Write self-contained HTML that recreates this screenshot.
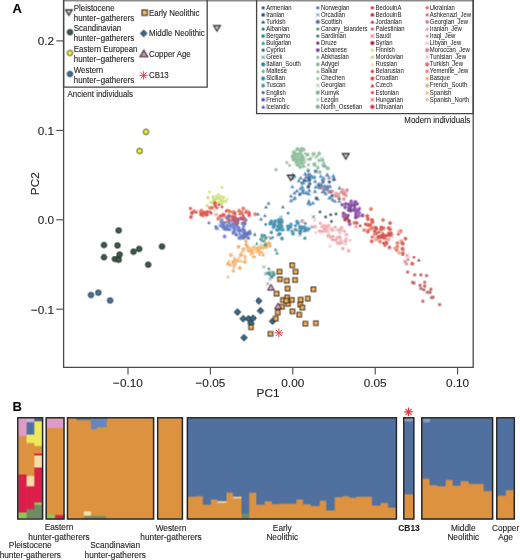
<!DOCTYPE html>
<html><head><meta charset="utf-8"><style>
html,body{margin:0;padding:0;background:#fff;overflow:hidden;width:520px;height:560px;}
svg{display:block;font-family:"Liberation Sans", sans-serif;}
.ly{position:absolute;left:0;top:0;width:520px;height:560px;will-change:transform;}
#g{transform:translate(0.5px,0.5px);}
text{stroke:#231f20;stroke-width:0.12px;}
text[font-size="6.4"]{stroke-width:0.04px;}
</style></head><body>
<div class="ly" id="g"><svg width="520" height="560" viewBox="0 0 520 560">
<rect width="520" height="560" fill="#fff"/>
<g transform="translate(-0.5 -0.5)">
<path d="M65.5 9.8H72.3L68.9 15.4Z" fill="#c4c4c4" stroke="#2b2b2b" stroke-width="1.15" stroke-linejoin="miter"/>
<circle cx="70.0" cy="32.2" r="2.75" fill="#3e5c4a" stroke="#1b2620" stroke-width="0.9"/>
<circle cx="70.0" cy="53.0" r="2.75" fill="#f2ee3c" stroke="#3a3a16" stroke-width="0.9"/>
<circle cx="70.0" cy="74.0" r="2.75" fill="#4674a0" stroke="#1d3346" stroke-width="0.9"/>
<rect x="142.0" y="10.0" width="5.4" height="5.4" fill="#f0b868" stroke="#3b2a14" stroke-width="1.1"/>
<path d="M143.7 30.1L147.0 33.4L143.7 36.7L140.4 33.4Z" fill="#3a6a8c" stroke="#1c2b38" stroke-width="0.9"/>
<path d="M143.9 50.2L147.8 56.8H140.0Z" fill="#c49ab6" stroke="#3e2636" stroke-width="1.1"/>
<circle cx="263.2" cy="7.8" r="1.59" fill="#2c4a78"/>
<rect x="261.6" y="13.3" width="3.2" height="3.2" fill="#2e4d7a"/>
<path d="M263.2 19.9L265.2 23.6L261.2 23.6Z" fill="#2c4a78"/>
<circle cx="263.2" cy="29.0" r="1.59" fill="#2b6584"/>
<rect x="261.6" y="34.5" width="3.2" height="3.2" fill="#2a8a86"/>
<path d="M263.2 41.1L265.2 44.8L261.2 44.8Z" fill="#2a8a86"/>
<circle cx="263.2" cy="50.2" r="1.59" fill="#35597e"/>
<path d="M261.4 55.5L265.0 59.0M265.0 55.5L261.4 59.0" stroke="#3a6690" stroke-width="0.9" fill="none"/>
<circle cx="263.2" cy="64.4" r="2.09" fill="#2e7ea4"/>
<path d="M261.2 71.4H265.2M263.2 69.4V73.4" stroke="#2c8a82" stroke-width="0.9" fill="none"/>
<circle cx="263.2" cy="78.5" r="2.09" fill="#2d86ac"/>
<rect x="261.6" y="84.0" width="3.2" height="3.2" fill="#3a8c8c"/>
<circle cx="263.2" cy="92.6" r="1.59" fill="#3e5bab"/>
<rect x="261.6" y="98.1" width="3.2" height="3.2" fill="#4858a6"/>
<path d="M263.2 104.7L265.2 108.4L261.2 108.4Z" fill="#3e5bab"/>
<circle cx="317.8" cy="7.8" r="1.59" fill="#5a6cbc"/>
<path d="M316.0 13.1L319.6 16.6M319.6 13.1L316.0 16.6" stroke="#4a6cc0" stroke-width="0.9" fill="none"/>
<circle cx="317.8" cy="21.9" r="2.09" fill="#5e6cae"/>
<circle cx="317.8" cy="29.0" r="1.59" fill="#468a6a"/>
<circle cx="317.8" cy="36.1" r="1.59" fill="#3c7470"/>
<circle cx="317.8" cy="43.1" r="1.59" fill="#5a2a7a"/>
<rect x="316.2" y="48.6" width="3.2" height="3.2" fill="#7a2a9e"/>
<circle cx="317.8" cy="57.3" r="1.59" fill="#7eb68c"/>
<rect x="316.2" y="62.8" width="3.2" height="3.2" fill="#7eae8c"/>
<path d="M317.8 69.4L319.8 73.1L315.8 73.1Z" fill="#86b496"/>
<circle cx="317.8" cy="78.5" r="1.59" fill="#92c09e"/>
<path d="M316.0 83.8L319.6 87.3M319.6 83.8L316.0 87.3" stroke="#7eae8c" stroke-width="0.9" fill="none"/>
<circle cx="317.8" cy="92.6" r="2.09" fill="#7eae8c"/>
<path d="M315.8 99.7H319.8M317.8 97.7V101.7" stroke="#92c09e" stroke-width="0.9" fill="none"/>
<circle cx="317.8" cy="106.8" r="2.09" fill="#7eae8c"/>
<circle cx="372.4" cy="7.8" r="1.59" fill="#c8283a"/>
<rect x="370.8" y="13.3" width="3.2" height="3.2" fill="#b42a3c"/>
<path d="M372.4 19.9L374.4 23.6L370.4 23.6Z" fill="#9a2a3c"/>
<circle cx="372.4" cy="29.0" r="1.59" fill="#b85a6a"/>
<path d="M370.6 34.3L374.2 37.8M374.2 34.3L370.6 37.8" stroke="#d83040" stroke-width="0.9" fill="none"/>
<circle cx="372.4" cy="43.1" r="2.09" fill="#a02a44"/>
<circle cx="372.4" cy="50.2" r="1.59" fill="#d4dc8c"/>
<rect x="370.8" y="55.7" width="3.2" height="3.2" fill="#c8d48c"/>
<path d="M372.4 62.3L374.4 66.0L370.4 66.0Z" fill="#e2dca4"/>
<circle cx="372.4" cy="71.4" r="1.59" fill="#dc2a34"/>
<rect x="370.8" y="76.9" width="3.2" height="3.2" fill="#dc2a34"/>
<path d="M372.4 83.5L374.4 87.2L370.4 87.2Z" fill="#c82a3c"/>
<circle cx="372.4" cy="92.6" r="1.59" fill="#dc3a44"/>
<path d="M370.6 97.9L374.2 101.5M374.2 97.9L370.6 101.5" stroke="#dc2a34" stroke-width="0.9" fill="none"/>
<circle cx="372.4" cy="106.8" r="2.09" fill="#dc2a3c"/>
<path d="M425.2 7.8H429.2M427.2 5.8V9.8" stroke="#c02838" stroke-width="0.9" fill="none"/>
<circle cx="427.2" cy="14.9" r="1.59" fill="#d86a7e"/>
<rect x="425.6" y="20.3" width="3.2" height="3.2" fill="#c87a8c"/>
<path d="M427.2 27.0L429.2 30.6L425.2 30.6Z" fill="#e090a0"/>
<circle cx="427.2" cy="36.1" r="1.59" fill="#d8909c"/>
<path d="M425.4 41.4L429.0 44.9M429.0 41.4L425.4 44.9" stroke="#d8a0a8" stroke-width="0.9" fill="none"/>
<circle cx="427.2" cy="50.2" r="2.09" fill="#d8808e"/>
<path d="M425.2 57.3H429.2M427.2 55.3V59.3" stroke="#e0a8b4" stroke-width="0.9" fill="none"/>
<circle cx="427.2" cy="64.4" r="2.09" fill="#e06a74"/>
<rect x="425.6" y="69.8" width="3.2" height="3.2" fill="#e07a84"/>
<circle cx="427.2" cy="78.5" r="1.59" fill="#f09a48"/>
<rect x="425.6" y="84.0" width="3.2" height="3.2" fill="#d8a878"/>
<path d="M427.2 90.6L429.2 94.3L425.2 94.3Z" fill="#f0b070"/>
<circle cx="427.2" cy="99.7" r="1.59" fill="#eeb880"/>
<g opacity="0.86">
<circle cx="222.2" cy="203.7" r="1.45" fill="#c8e06a"/>
<circle cx="213.3" cy="198.1" r="1.45" fill="#c8e06a"/>
<circle cx="216.6" cy="198.9" r="1.45" fill="#c8e06a"/>
<rect x="218.5" y="198.3" width="2.9" height="2.9" fill="#c0da70"/>
<rect x="217.7" y="195.7" width="2.9" height="2.9" fill="#c0da70"/>
<circle cx="209.5" cy="192.0" r="1.45" fill="#c8e06a"/>
<rect x="205.7" y="204.2" width="2.9" height="2.9" fill="#c0da70"/>
<circle cx="220.6" cy="196.4" r="1.45" fill="#c8e06a"/>
<circle cx="221.2" cy="201.3" r="1.45" fill="#c8e06a"/>
<circle cx="220.8" cy="203.8" r="1.90" fill="#cce074"/>
<path d="M213.6 200.8L215.5 204.1L211.8 204.1Z" fill="#d4e48a"/>
<circle cx="221.2" cy="200.0" r="1.45" fill="#c8e06a"/>
<path d="M214.1 198.7L215.9 202.0L212.2 202.0Z" fill="#d4e48a"/>
<rect x="212.5" y="198.5" width="2.9" height="2.9" fill="#c0da70"/>
<circle cx="216.8" cy="196.2" r="1.90" fill="#cce074"/>
<rect x="206.5" y="196.3" width="2.9" height="2.9" fill="#c0da70"/>
<path d="M214.7 208.0L216.5 211.4L212.8 211.4Z" fill="#d4e48a"/>
<circle cx="210.7" cy="202.3" r="1.45" fill="#c8e06a"/>
<circle cx="216.6" cy="199.1" r="1.45" fill="#c8e06a"/>
<path d="M218.6 192.0L220.4 195.3L216.7 195.3Z" fill="#d4e48a"/>
<circle cx="215.0" cy="204.7" r="1.90" fill="#cce074"/>
<rect x="211.7" y="195.4" width="2.9" height="2.9" fill="#c0da70"/>
<circle cx="223.3" cy="197.5" r="1.90" fill="#cce074"/>
<path d="M225.2 199.5L227.1 202.8L223.4 202.8Z" fill="#d4e48a"/>
<path d="M227.3 196.8L229.1 200.2L225.4 200.2Z" fill="#d4e48a"/>
<circle cx="212.4" cy="202.9" r="1.45" fill="#c8e06a"/>
<circle cx="215.1" cy="199.6" r="1.45" fill="#c8e06a"/>
<circle cx="226.0" cy="201.5" r="1.45" fill="#c8e06a"/>
<circle cx="218.1" cy="203.0" r="1.45" fill="#c8e06a"/>
<circle cx="222.8" cy="201.1" r="1.90" fill="#cce074"/>
<circle cx="222.0" cy="187.5" r="1.45" fill="#c8e06a"/>
<path d="M212.3 205.8L214.1 209.1L210.4 209.1Z" fill="#c83a3c"/>
<circle cx="202.9" cy="215.6" r="1.90" fill="#e8684a"/>
<rect x="213.8" y="204.7" width="2.9" height="2.9" fill="#e04434"/>
<circle cx="205.9" cy="214.3" r="1.90" fill="#e0443a"/>
<circle cx="196.0" cy="212.4" r="1.45" fill="#dc3a34"/>
<circle cx="210.3" cy="212.1" r="1.45" fill="#dc3a34"/>
<rect x="189.0" y="207.0" width="2.9" height="2.9" fill="#e04434"/>
<path d="M194.1 209.9L197.3 213.1M197.3 209.9L194.1 213.1" stroke="#dc4030" stroke-width="0.9" fill="none"/>
<path d="M214.5 212.9L217.7 216.1M217.7 212.9L214.5 216.1" stroke="#dc4030" stroke-width="0.9" fill="none"/>
<path d="M209.8 207.6H213.4M211.6 205.8V209.4" stroke="#c84040" stroke-width="0.9" fill="none"/>
<rect x="200.3" y="211.5" width="2.9" height="2.9" fill="#e04434"/>
<path d="M204.5 210.9L207.7 214.1M207.7 210.9L204.5 214.1" stroke="#dc4030" stroke-width="0.9" fill="none"/>
<circle cx="206.9" cy="214.7" r="1.90" fill="#e0443a"/>
<circle cx="207.4" cy="212.0" r="1.90" fill="#e0443a"/>
<circle cx="203.1" cy="212.6" r="1.90" fill="#e0443a"/>
<circle cx="201.4" cy="210.7" r="1.90" fill="#e8684a"/>
<circle cx="200.7" cy="214.7" r="1.45" fill="#dc3a34"/>
<circle cx="215.0" cy="203.0" r="1.90" fill="#e0443a"/>
<rect x="200.0" y="210.7" width="2.9" height="2.9" fill="#e04434"/>
<circle cx="201.4" cy="214.3" r="1.90" fill="#e0443a"/>
<path d="M202.9 212.6H206.5M204.7 210.8V214.4" stroke="#c84040" stroke-width="0.9" fill="none"/>
<circle cx="200.7" cy="211.7" r="1.90" fill="#e8684a"/>
<path d="M211.2 210.9L213.1 214.2L209.4 214.2Z" fill="#c83a3c"/>
<circle cx="210.1" cy="207.9" r="1.90" fill="#e8684a"/>
<circle cx="201.6" cy="213.6" r="1.45" fill="#dc3a34"/>
<path d="M192.0 210.8H195.6M193.8 209.0V212.6" stroke="#c84040" stroke-width="0.9" fill="none"/>
<circle cx="236.6" cy="223.1" r="1.45" fill="#dc3a34"/>
<circle cx="243.3" cy="208.5" r="1.90" fill="#e8684a"/>
<path d="M231.8 211.8H235.4M233.6 210.0V213.6" stroke="#c84040" stroke-width="0.9" fill="none"/>
<path d="M232.7 214.0L234.6 217.3L230.9 217.3Z" fill="#c83a3c"/>
<circle cx="232.8" cy="218.4" r="1.90" fill="#e0443a"/>
<path d="M241.3 212.1L244.5 215.3M244.5 212.1L241.3 215.3" stroke="#dc4030" stroke-width="0.9" fill="none"/>
<circle cx="255.1" cy="214.2" r="1.90" fill="#e8684a"/>
<rect x="233.7" y="216.7" width="2.9" height="2.9" fill="#e04434"/>
<circle cx="237.4" cy="221.0" r="1.90" fill="#e0443a"/>
<circle cx="239.2" cy="210.7" r="1.90" fill="#e8684a"/>
<path d="M233.5 211.6L236.7 214.8M236.7 211.6L233.5 214.8" stroke="#dc4030" stroke-width="0.9" fill="none"/>
<path d="M244.9 209.2L248.1 212.4M248.1 209.2L244.9 212.4" stroke="#dc4030" stroke-width="0.9" fill="none"/>
<path d="M226.9 215.4H230.5M228.7 213.6V217.2" stroke="#c84040" stroke-width="0.9" fill="none"/>
<path d="M224.6 222.0H228.2M226.4 220.2V223.8" stroke="#c84040" stroke-width="0.9" fill="none"/>
<circle cx="227.2" cy="217.8" r="1.90" fill="#e8684a"/>
<circle cx="233.2" cy="212.3" r="1.90" fill="#e8684a"/>
<circle cx="244.7" cy="222.9" r="1.90" fill="#e0443a"/>
<path d="M241.9 221.7H245.5M243.7 219.9V223.5" stroke="#c84040" stroke-width="0.9" fill="none"/>
<circle cx="229.7" cy="211.5" r="1.90" fill="#e8684a"/>
<path d="M235.0 213.7L236.8 217.0L233.1 217.0Z" fill="#c83a3c"/>
<circle cx="227.9" cy="210.6" r="1.90" fill="#e8684a"/>
<circle cx="218.2" cy="218.7" r="1.90" fill="#e8684a"/>
<path d="M233.8 218.3H237.4M235.6 216.5V220.1" stroke="#c84040" stroke-width="0.9" fill="none"/>
<circle cx="234.7" cy="221.0" r="1.45" fill="#dc3a34"/>
<circle cx="230.1" cy="216.2" r="1.45" fill="#dc3a34"/>
<circle cx="228.3" cy="219.0" r="1.90" fill="#e8684a"/>
<path d="M239.7 210.7L242.9 213.9M242.9 210.7L239.7 213.9" stroke="#dc4030" stroke-width="0.9" fill="none"/>
<circle cx="223.5" cy="214.9" r="1.90" fill="#e8684a"/>
<path d="M243.1 213.7L244.9 217.0L241.2 217.0Z" fill="#c83a3c"/>
<circle cx="249.2" cy="215.2" r="1.90" fill="#e0443a"/>
<circle cx="220.5" cy="216.2" r="1.90" fill="#e0443a"/>
<path d="M229.3 218.0L231.1 221.3L227.4 221.3Z" fill="#c83a3c"/>
<path d="M234.9 211.1L236.7 214.4L233.0 214.4Z" fill="#c83a3c"/>
<path d="M234.1 216.8L235.9 220.1L232.2 220.1Z" fill="#c83a3c"/>
<path d="M221.3 214.7H224.9M223.1 212.9V216.5" stroke="#c84040" stroke-width="0.9" fill="none"/>
<path d="M240.0 212.5H243.6M241.8 210.7V214.3" stroke="#c84040" stroke-width="0.9" fill="none"/>
<path d="M222.2 213.2L225.4 216.4M225.4 213.2L222.2 216.4" stroke="#dc4030" stroke-width="0.9" fill="none"/>
<path d="M222.4 215.0L225.6 218.2M225.6 215.0L222.4 218.2" stroke="#dc4030" stroke-width="0.9" fill="none"/>
<rect x="244.8" y="211.0" width="2.9" height="2.9" fill="#e04434"/>
<circle cx="240.2" cy="213.8" r="1.90" fill="#e8684a"/>
<path d="M249.2 210.1L251.1 213.5L247.4 213.5Z" fill="#c83a3c"/>
<circle cx="240.6" cy="218.4" r="1.90" fill="#e0443a"/>
<circle cx="192.0" cy="213.0" r="1.90" fill="#dc3a44"/>
<circle cx="191.0" cy="217.0" r="1.90" fill="#e04a44"/>
<path d="M215.2 208.0H218.8M217.0 206.2V209.8" stroke="#c83040" stroke-width="0.9" fill="none"/>
<path d="M220.2 207.0H223.8M222.0 205.2V208.8" stroke="#c83040" stroke-width="0.9" fill="none"/>
<path d="M217.2 205.0H220.8M219.0 203.2V206.8" stroke="#c83040" stroke-width="0.9" fill="none"/>
<path d="M224.2 211.0H227.8M226.0 209.2V212.8" stroke="#c83040" stroke-width="0.9" fill="none"/>
<rect x="222.7" y="226.1" width="2.9" height="2.9" fill="#5a70c4"/>
<circle cx="227.2" cy="217.7" r="1.90" fill="#6072c8"/>
<rect x="220.4" y="218.8" width="2.9" height="2.9" fill="#5a70c4"/>
<rect x="236.1" y="217.5" width="2.9" height="2.9" fill="#5a70c4"/>
<rect x="229.3" y="223.4" width="2.9" height="2.9" fill="#5a70c4"/>
<circle cx="237.2" cy="225.5" r="1.45" fill="#5068bc"/>
<rect x="214.9" y="226.6" width="2.9" height="2.9" fill="#5a70c4"/>
<circle cx="226.0" cy="229.3" r="1.45" fill="#5068bc"/>
<circle cx="232.8" cy="226.6" r="1.90" fill="#6072c8"/>
<circle cx="230.2" cy="226.4" r="1.45" fill="#5068bc"/>
<circle cx="221.5" cy="225.9" r="1.90" fill="#6072c8"/>
<path d="M228.5 213.8L230.3 217.1L226.6 217.1Z" fill="#5068b4"/>
<rect x="222.4" y="225.7" width="2.9" height="2.9" fill="#5a70c4"/>
<path d="M221.9 226.5L225.1 229.7M225.1 226.5L221.9 229.7" stroke="#5a78c4" stroke-width="0.9" fill="none"/>
<circle cx="235.0" cy="222.1" r="1.45" fill="#5068bc"/>
<rect x="231.8" y="231.8" width="2.9" height="2.9" fill="#5a70c4"/>
<circle cx="223.1" cy="224.4" r="1.90" fill="#6072c8"/>
<rect x="219.8" y="220.7" width="2.9" height="2.9" fill="#5a70c4"/>
<rect x="231.7" y="222.4" width="2.9" height="2.9" fill="#5a70c4"/>
<path d="M234.3 228.4L237.5 231.6M237.5 228.4L234.3 231.6" stroke="#5a78c4" stroke-width="0.9" fill="none"/>
<rect x="227.6" y="221.2" width="2.9" height="2.9" fill="#5a70c4"/>
<circle cx="208.9" cy="223.0" r="1.45" fill="#5068bc"/>
<rect x="228.4" y="228.1" width="2.9" height="2.9" fill="#5a70c4"/>
<rect x="225.8" y="226.1" width="2.9" height="2.9" fill="#5a70c4"/>
<rect x="224.4" y="227.9" width="2.9" height="2.9" fill="#5a70c4"/>
<circle cx="224.3" cy="222.7" r="1.45" fill="#5068bc"/>
<circle cx="226.8" cy="229.3" r="1.45" fill="#5068bc"/>
<rect x="222.5" y="225.3" width="2.9" height="2.9" fill="#5a70c4"/>
<path d="M218.1 223.6L221.3 226.8M221.3 223.6L218.1 226.8" stroke="#5a78c4" stroke-width="0.9" fill="none"/>
<circle cx="227.0" cy="225.2" r="1.45" fill="#5068bc"/>
<path d="M214.9 226.3L218.1 229.5M218.1 226.3L214.9 229.5" stroke="#5a78c4" stroke-width="0.9" fill="none"/>
<path d="M215.9 227.4L219.1 230.6M219.1 227.4L215.9 230.6" stroke="#5a78c4" stroke-width="0.9" fill="none"/>
<circle cx="230.4" cy="225.6" r="1.90" fill="#6072c8"/>
<path d="M219.7 218.9L222.9 222.1M222.9 218.9L219.7 222.1" stroke="#5a78c4" stroke-width="0.9" fill="none"/>
<circle cx="222.7" cy="227.1" r="1.45" fill="#5068bc"/>
<rect x="232.9" y="227.4" width="2.9" height="2.9" fill="#5a70c4"/>
<rect x="224.1" y="226.0" width="2.9" height="2.9" fill="#5a70c4"/>
<path d="M229.6 220.1L232.8 223.3M232.8 220.1L229.6 223.3" stroke="#5a78c4" stroke-width="0.9" fill="none"/>
<circle cx="224.3" cy="229.3" r="1.45" fill="#5068bc"/>
<circle cx="228.2" cy="229.6" r="1.45" fill="#5068bc"/>
<rect x="240.8" y="222.0" width="2.9" height="2.9" fill="#5a70c4"/>
<circle cx="224.6" cy="236.4" r="1.90" fill="#6072c8"/>
<circle cx="223.8" cy="226.1" r="1.45" fill="#5068bc"/>
<circle cx="215.8" cy="226.8" r="1.45" fill="#5068bc"/>
<rect x="238.0" y="229.5" width="2.9" height="2.9" fill="#5a70c4"/>
<rect x="243.2" y="232.0" width="2.9" height="2.9" fill="#5a70c4"/>
<rect x="243.2" y="230.1" width="2.9" height="2.9" fill="#5a70c4"/>
<rect x="232.8" y="226.7" width="2.9" height="2.9" fill="#5a70c4"/>
<path d="M233.6 223.4L236.8 226.6M236.8 223.4L233.6 226.6" stroke="#5a78c4" stroke-width="0.9" fill="none"/>
<path d="M234.6 232.0L237.8 235.2M237.8 232.0L234.6 235.2" stroke="#5a78c4" stroke-width="0.9" fill="none"/>
<path d="M245.2 235.0L247.1 238.3L243.4 238.3Z" fill="#5068b4"/>
<circle cx="250.1" cy="233.3" r="1.90" fill="#6072c8"/>
<path d="M232.2 224.1L235.4 227.3M235.4 224.1L232.2 227.3" stroke="#5a78c4" stroke-width="0.9" fill="none"/>
<path d="M242.7 233.6L245.9 236.8M245.9 233.6L242.7 236.8" stroke="#5a78c4" stroke-width="0.9" fill="none"/>
<circle cx="245.1" cy="224.0" r="1.45" fill="#5068bc"/>
<path d="M228.4 224.6L231.6 227.8M231.6 224.6L228.4 227.8" stroke="#5a78c4" stroke-width="0.9" fill="none"/>
<circle cx="238.6" cy="228.0" r="1.90" fill="#6072c8"/>
<rect x="242.0" y="232.7" width="2.9" height="2.9" fill="#5a70c4"/>
<rect x="242.2" y="224.6" width="2.9" height="2.9" fill="#5a70c4"/>
<circle cx="234.2" cy="226.2" r="1.90" fill="#6072c8"/>
<circle cx="249.8" cy="231.2" r="1.45" fill="#5068bc"/>
<path d="M231.6 229.3L234.8 232.5M234.8 229.3L231.6 232.5" stroke="#5a78c4" stroke-width="0.9" fill="none"/>
<circle cx="248.2" cy="234.0" r="1.90" fill="#6072c8"/>
<rect x="242.4" y="231.1" width="2.9" height="2.9" fill="#5a70c4"/>
<path d="M240.9 236.5L244.1 239.7M244.1 236.5L240.9 239.7" stroke="#5a78c4" stroke-width="0.9" fill="none"/>
<path d="M234.6 229.3L236.5 232.6L232.8 232.6Z" fill="#5068b4"/>
<circle cx="236.2" cy="224.0" r="1.45" fill="#5068bc"/>
<circle cx="238.6" cy="229.6" r="1.90" fill="#6072c8"/>
<rect x="238.3" y="237.0" width="2.9" height="2.9" fill="#5a70c4"/>
<circle cx="239.2" cy="230.7" r="1.45" fill="#5068bc"/>
<rect x="237.6" y="236.2" width="2.9" height="2.9" fill="#5a70c4"/>
<circle cx="237.9" cy="227.7" r="1.90" fill="#6072c8"/>
<circle cx="234.0" cy="232.1" r="1.45" fill="#5068bc"/>
<rect x="241.4" y="227.7" width="2.9" height="2.9" fill="#5a70c4"/>
<path d="M241.0 228.8L242.8 232.2L239.1 232.2Z" fill="#5068b4"/>
<circle cx="246.1" cy="220.3" r="1.45" fill="#5068bc"/>
<circle cx="239.6" cy="234.1" r="1.45" fill="#5068bc"/>
<path d="M241.8 234.9L243.6 238.2L239.9 238.2Z" fill="#5068b4"/>
<rect x="234.8" y="233.4" width="2.9" height="2.9" fill="#5060b0"/>
<rect x="246.6" y="231.3" width="2.9" height="2.9" fill="#5060b0"/>
<circle cx="245.2" cy="233.9" r="1.45" fill="#4a5cb0"/>
<circle cx="245.1" cy="236.1" r="1.45" fill="#4a5cb0"/>
<rect x="240.2" y="234.7" width="2.9" height="2.9" fill="#5060b0"/>
<rect x="246.9" y="236.7" width="2.9" height="2.9" fill="#5060b0"/>
<rect x="244.7" y="234.4" width="2.9" height="2.9" fill="#5060b0"/>
<circle cx="247.1" cy="234.7" r="1.45" fill="#4a5cb0"/>
<circle cx="244.0" cy="229.7" r="1.45" fill="#4a5cb0"/>
<rect x="241.8" y="236.7" width="2.9" height="2.9" fill="#5060b0"/>
<circle cx="232.8" cy="220.0" r="1.90" fill="#a04a6a"/>
<circle cx="235.8" cy="221.6" r="1.90" fill="#9a4a70"/>
<circle cx="237.7" cy="219.6" r="1.90" fill="#9a4a70"/>
<circle cx="236.0" cy="222.6" r="1.90" fill="#a04a6a"/>
<circle cx="237.4" cy="222.8" r="1.90" fill="#a04a6a"/>
<circle cx="241.5" cy="218.6" r="1.90" fill="#a04a6a"/>
<circle cx="244.1" cy="218.5" r="1.90" fill="#a04a6a"/>
<circle cx="235.8" cy="220.4" r="1.90" fill="#a04a6a"/>
<path d="M242.2 249.4L244.0 252.7L240.3 252.7Z" fill="#f4b878"/>
<path d="M255.6 246.3L257.4 249.7L253.7 249.7Z" fill="#f4b878"/>
<circle cx="263.5" cy="248.6" r="1.45" fill="#f2bc80"/>
<rect x="251.2" y="251.7" width="2.9" height="2.9" fill="#f0ac66"/>
<circle cx="256.1" cy="252.2" r="1.45" fill="#f2bc80"/>
<circle cx="247.5" cy="247.2" r="1.90" fill="#f2a858"/>
<circle cx="259.5" cy="248.4" r="1.90" fill="#f2a858"/>
<circle cx="249.8" cy="248.1" r="1.45" fill="#f2bc80"/>
<circle cx="265.7" cy="245.2" r="1.45" fill="#f2bc80"/>
<circle cx="257.6" cy="248.2" r="1.90" fill="#f2a858"/>
<rect x="260.3" y="246.0" width="2.9" height="2.9" fill="#f0ac66"/>
<circle cx="238.7" cy="246.9" r="1.90" fill="#f2a858"/>
<path d="M248.5 248.4L250.4 251.7L246.7 251.7Z" fill="#f4b878"/>
<rect x="249.2" y="248.8" width="2.9" height="2.9" fill="#f0ac66"/>
<circle cx="253.6" cy="256.6" r="1.90" fill="#f2a858"/>
<circle cx="243.5" cy="249.1" r="1.90" fill="#f2a858"/>
<circle cx="258.0" cy="249.4" r="1.45" fill="#f2bc80"/>
<circle cx="248.6" cy="250.6" r="1.90" fill="#f2a858"/>
<circle cx="265.5" cy="239.5" r="1.45" fill="#f2bc80"/>
<circle cx="269.8" cy="245.7" r="1.90" fill="#f2a858"/>
<circle cx="244.5" cy="249.8" r="1.45" fill="#f2bc80"/>
<circle cx="241.1" cy="254.7" r="1.90" fill="#f2a858"/>
<circle cx="269.3" cy="237.2" r="1.45" fill="#f2bc80"/>
<circle cx="260.2" cy="247.6" r="1.90" fill="#f2a858"/>
<rect x="244.5" y="239.6" width="2.9" height="2.9" fill="#f0ac66"/>
<path d="M246.1 242.1L248.0 245.4L244.3 245.4Z" fill="#f4b878"/>
<rect x="252.1" y="245.7" width="2.9" height="2.9" fill="#f0ac66"/>
<circle cx="259.5" cy="254.3" r="1.45" fill="#f2bc80"/>
<path d="M254.8 247.1L256.6 250.5L252.9 250.5Z" fill="#f4b878"/>
<circle cx="246.3" cy="244.6" r="1.90" fill="#f2a858"/>
<circle cx="266.1" cy="247.1" r="1.90" fill="#f2a858"/>
<path d="M251.5 247.6L253.3 250.9L249.6 250.9Z" fill="#f4b878"/>
<path d="M263.5 244.0L265.4 247.4L261.7 247.4Z" fill="#f4b878"/>
<rect x="266.7" y="242.1" width="2.9" height="2.9" fill="#f0ac66"/>
<circle cx="249.7" cy="248.5" r="1.45" fill="#f2bc80"/>
<circle cx="269.2" cy="243.3" r="1.90" fill="#f2a858"/>
<circle cx="266.4" cy="245.7" r="1.90" fill="#f2a858"/>
<path d="M250.2 247.5L252.1 250.8L248.4 250.8Z" fill="#f4b878"/>
<path d="M261.5 243.0L263.3 246.4L259.6 246.4Z" fill="#f4b878"/>
<circle cx="251.7" cy="250.9" r="1.90" fill="#f2a858"/>
<path d="M262.1 250.1L264.0 253.4L260.3 253.4Z" fill="#f4b878"/>
<path d="M250.0 246.1L251.8 249.5L248.1 249.5Z" fill="#f4b878"/>
<circle cx="250.8" cy="254.0" r="1.45" fill="#f2bc80"/>
<circle cx="259.7" cy="252.3" r="1.90" fill="#f2a858"/>
<circle cx="265.7" cy="244.1" r="1.90" fill="#f2a858"/>
<circle cx="258.2" cy="250.3" r="1.90" fill="#f2a858"/>
<path d="M260.6 243.7L262.5 247.0L258.8 247.0Z" fill="#f4b878"/>
<rect x="261.7" y="253.6" width="2.9" height="2.9" fill="#f0ac66"/>
<circle cx="234.9" cy="261.9" r="1.90" fill="#f2a858"/>
<rect x="239.3" y="254.0" width="2.9" height="2.9" fill="#f0ac66"/>
<path d="M245.3 256.7L247.1 260.1L243.4 260.1Z" fill="#f4b878"/>
<circle cx="239.9" cy="268.0" r="1.90" fill="#f2a858"/>
<path d="M241.0 259.1L242.8 262.4L239.1 262.4Z" fill="#f4b878"/>
<rect x="228.8" y="263.6" width="2.9" height="2.9" fill="#f0ac66"/>
<circle cx="237.3" cy="260.9" r="1.90" fill="#f2a858"/>
<rect x="234.0" y="259.4" width="2.9" height="2.9" fill="#f0ac66"/>
<circle cx="235.1" cy="264.7" r="1.45" fill="#f2bc80"/>
<circle cx="234.6" cy="258.1" r="1.45" fill="#f2bc80"/>
<circle cx="228.1" cy="263.9" r="1.90" fill="#f2a858"/>
<circle cx="235.6" cy="264.5" r="1.45" fill="#f2bc80"/>
<circle cx="238.5" cy="261.2" r="1.45" fill="#f2bc80"/>
<circle cx="232.9" cy="261.0" r="1.45" fill="#f2bc80"/>
<circle cx="244.8" cy="262.0" r="1.90" fill="#f2a858"/>
<circle cx="230.9" cy="254.8" r="1.90" fill="#f2a858"/>
<rect x="231.9" y="269.5" width="2.9" height="2.9" fill="#f0ac66"/>
<path d="M233.8 265.7L235.6 269.0L231.9 269.0Z" fill="#f4b878"/>
<circle cx="233.0" cy="262.3" r="1.90" fill="#f2a858"/>
<path d="M238.9 256.0L240.7 259.3L237.0 259.3Z" fill="#f4b878"/>
<circle cx="236.9" cy="261.3" r="1.45" fill="#f2bc80"/>
<rect x="243.6" y="254.9" width="2.9" height="2.9" fill="#f0ac66"/>
<rect x="232.5" y="264.1" width="2.9" height="2.9" fill="#f0ac66"/>
<rect x="234.3" y="258.8" width="2.9" height="2.9" fill="#f0ac66"/>
<circle cx="230.6" cy="255.9" r="1.45" fill="#f2bc80"/>
<path d="M228.8 259.3L230.6 262.6L226.9 262.6Z" fill="#f4b878"/>
<circle cx="228.0" cy="277.0" r="1.45" fill="#f0b478"/>
<circle cx="271.4" cy="232.7" r="1.45" fill="#2a7aa8"/>
<circle cx="279.7" cy="233.9" r="1.90" fill="#2e86b0"/>
<circle cx="278.2" cy="226.5" r="1.90" fill="#2e86b0"/>
<path d="M269.0 236.9L272.2 240.1M272.2 236.9L269.0 240.1" stroke="#3a6690" stroke-width="0.9" fill="none"/>
<circle cx="280.9" cy="225.7" r="1.90" fill="#3398c0"/>
<circle cx="281.8" cy="229.3" r="1.90" fill="#2e86b0"/>
<path d="M271.7 227.2H275.3M273.5 225.4V229.0" stroke="#2c8a82" stroke-width="0.9" fill="none"/>
<circle cx="271.6" cy="220.9" r="1.45" fill="#2a7aa8"/>
<rect x="279.8" y="218.5" width="2.9" height="2.9" fill="#2e8a8a"/>
<circle cx="279.3" cy="222.5" r="1.90" fill="#2e86b0"/>
<path d="M269.7 230.3L272.9 233.5M272.9 230.3L269.7 233.5" stroke="#3a6690" stroke-width="0.9" fill="none"/>
<circle cx="277.1" cy="229.8" r="1.90" fill="#2e86b0"/>
<circle cx="281.9" cy="221.6" r="1.90" fill="#2e86b0"/>
<circle cx="264.6" cy="235.5" r="1.45" fill="#2a7aa8"/>
<path d="M276.5 233.4L279.7 236.6M279.7 233.4L276.5 236.6" stroke="#3a6690" stroke-width="0.9" fill="none"/>
<path d="M277.5 225.9H281.1M279.3 224.1V227.7" stroke="#2c8a82" stroke-width="0.9" fill="none"/>
<path d="M279.4 215.7L282.6 218.9M282.6 215.7L279.4 218.9" stroke="#3a6690" stroke-width="0.9" fill="none"/>
<circle cx="281.0" cy="227.0" r="1.90" fill="#3398c0"/>
<circle cx="282.0" cy="238.5" r="1.90" fill="#2e86b0"/>
<path d="M279.8 222.4L283.0 225.6M283.0 222.4L279.8 225.6" stroke="#3a6690" stroke-width="0.9" fill="none"/>
<circle cx="273.3" cy="227.2" r="1.90" fill="#3398c0"/>
<rect x="277.8" y="223.8" width="2.9" height="2.9" fill="#2e8a8a"/>
<path d="M272.8 222.0L276.0 225.2M276.0 222.0L272.8 225.2" stroke="#3a6690" stroke-width="0.9" fill="none"/>
<circle cx="279.1" cy="228.6" r="1.45" fill="#2a7aa8"/>
<circle cx="271.1" cy="221.8" r="1.90" fill="#2e86b0"/>
<circle cx="281.4" cy="226.3" r="1.90" fill="#2e86b0"/>
<path d="M276.9 230.0H280.5M278.7 228.2V231.8" stroke="#2c8a82" stroke-width="0.9" fill="none"/>
<circle cx="278.8" cy="220.0" r="1.90" fill="#2e86b0"/>
<circle cx="281.0" cy="229.0" r="1.90" fill="#2e86b0"/>
<path d="M274.0 222.7L277.2 225.9M277.2 222.7L274.0 225.9" stroke="#3a6690" stroke-width="0.9" fill="none"/>
<circle cx="275.3" cy="221.2" r="1.90" fill="#2e86b0"/>
<circle cx="272.6" cy="237.6" r="1.45" fill="#2a7aa8"/>
<circle cx="272.7" cy="224.1" r="1.45" fill="#2a7aa8"/>
<circle cx="288.1" cy="213.3" r="1.45" fill="#2a7aa8"/>
<circle cx="279.6" cy="233.6" r="1.45" fill="#2a7aa8"/>
<circle cx="287.8" cy="226.4" r="1.90" fill="#2e86b0"/>
<circle cx="279.2" cy="221.4" r="1.45" fill="#2a7aa8"/>
<circle cx="274.1" cy="226.7" r="1.90" fill="#3398c0"/>
<circle cx="270.2" cy="223.7" r="1.90" fill="#2e86b0"/>
<circle cx="282.9" cy="229.7" r="1.90" fill="#3398c0"/>
<circle cx="274.2" cy="225.9" r="1.45" fill="#2a7aa8"/>
<circle cx="265.7" cy="224.5" r="1.45" fill="#2a7aa8"/>
<circle cx="288.2" cy="229.4" r="1.90" fill="#2e86b0"/>
<circle cx="300.0" cy="230.7" r="1.90" fill="#3398c0"/>
<circle cx="305.8" cy="228.4" r="1.90" fill="#3398c0"/>
<circle cx="304.3" cy="227.4" r="1.90" fill="#2e86b0"/>
<circle cx="290.9" cy="224.5" r="1.90" fill="#3398c0"/>
<circle cx="299.9" cy="226.6" r="1.90" fill="#2e86b0"/>
<circle cx="305.4" cy="223.6" r="1.45" fill="#2a7aa8"/>
<circle cx="300.2" cy="232.5" r="1.90" fill="#2e86b0"/>
<path d="M295.1 228.6L298.3 231.8M298.3 228.6L295.1 231.8" stroke="#3a6690" stroke-width="0.9" fill="none"/>
<circle cx="297.0" cy="221.6" r="1.90" fill="#2e86b0"/>
<circle cx="289.7" cy="226.8" r="1.90" fill="#2e86b0"/>
<circle cx="300.6" cy="227.5" r="1.90" fill="#2e86b0"/>
<path d="M289.4 225.9L292.6 229.1M292.6 225.9L289.4 229.1" stroke="#3a6690" stroke-width="0.9" fill="none"/>
<circle cx="292.0" cy="231.2" r="1.45" fill="#2a7aa8"/>
<circle cx="295.5" cy="225.8" r="1.45" fill="#2a7aa8"/>
<circle cx="307.2" cy="229.7" r="1.45" fill="#2a7aa8"/>
<path d="M298.3 233.3L301.5 236.5M301.5 233.3L298.3 236.5" stroke="#3a6690" stroke-width="0.9" fill="none"/>
<rect x="293.9" y="228.1" width="2.9" height="2.9" fill="#2e8a8a"/>
<path d="M299.9 228.5L303.1 231.7M303.1 228.5L299.9 231.7" stroke="#3a6690" stroke-width="0.9" fill="none"/>
<circle cx="304.4" cy="231.1" r="1.45" fill="#2a7aa8"/>
<path d="M305.7 228.7L308.9 231.9M308.9 228.7L305.7 231.9" stroke="#3a6690" stroke-width="0.9" fill="none"/>
<circle cx="297.9" cy="223.0" r="1.90" fill="#2e86b0"/>
<path d="M304.1 228.8L307.3 232.0M307.3 228.8L304.1 232.0" stroke="#3a6690" stroke-width="0.9" fill="none"/>
<circle cx="302.1" cy="228.4" r="1.45" fill="#2a7aa8"/>
<circle cx="308.7" cy="228.9" r="1.90" fill="#3398c0"/>
<rect x="303.4" y="236.8" width="2.9" height="2.9" fill="#2e8a8a"/>
<path d="M310.3 225.3L313.5 228.5M313.5 225.3L310.3 228.5" stroke="#3a6690" stroke-width="0.9" fill="none"/>
<circle cx="302.3" cy="221.1" r="1.90" fill="#2e86b0"/>
<circle cx="293.0" cy="233.7" r="1.90" fill="#2e86b0"/>
<circle cx="302.8" cy="227.3" r="1.90" fill="#2e86b0"/>
<path d="M262.0 239.6L265.2 242.8M265.2 239.6L262.0 242.8" stroke="#2b7a84" stroke-width="0.9" fill="none"/>
<path d="M260.1 239.0L263.3 242.2M263.3 239.0L260.1 242.2" stroke="#2b7a84" stroke-width="0.9" fill="none"/>
<path d="M260.6 237.0L262.4 240.3L258.7 240.3Z" fill="#2a8a86"/>
<rect x="263.9" y="243.5" width="2.9" height="2.9" fill="#3a8c8c"/>
<path d="M262.7 234.9L264.5 238.2L260.8 238.2Z" fill="#2a8a86"/>
<path d="M262.6 239.2L265.8 242.4M265.8 239.2L262.6 242.4" stroke="#2b7a84" stroke-width="0.9" fill="none"/>
<path d="M256.5 241.6L258.3 245.0L254.6 245.0Z" fill="#2a8a86"/>
<path d="M254.7 232.7L256.5 236.0L252.8 236.0Z" fill="#2a8a86"/>
<rect x="264.5" y="236.3" width="2.9" height="2.9" fill="#3a8c8c"/>
<rect x="260.4" y="233.9" width="2.9" height="2.9" fill="#3a8c8c"/>
<path d="M268.6 201.3L270.5 204.7L266.8 204.7Z" fill="#3a6a92"/>
<path d="M282.9 205.0L284.8 208.3L281.0 208.3Z" fill="#3a6a92"/>
<path d="M294.1 196.8L296.0 200.2L292.2 200.2Z" fill="#3a6a92"/>
<path d="M264.9 213.8L266.8 217.1L263.0 217.1Z" fill="#3a6a92"/>
<path d="M257.9 212.2L259.8 215.5L256.0 215.5Z" fill="#3a6a92"/>
<path d="M261.0 217.2L262.9 220.5L259.1 220.5Z" fill="#3a6a92"/>
<path d="M266.0 205.2L267.9 208.5L264.1 208.5Z" fill="#3a6a92"/>
<path d="M291.0 194.2L292.9 197.5L289.1 197.5Z" fill="#3a6a92"/>
<path d="M275.7 247.8L277.6 251.1L273.8 251.1Z" fill="#2a8a86"/>
<path d="M277.0 251.2L278.9 254.5L275.1 254.5Z" fill="#2a8a86"/>
<path d="M308.6 175.0L310.7 178.8L306.4 178.8Z" fill="#6a80a8"/>
<circle cx="309.7" cy="183.7" r="1.67" fill="#2c4a78"/>
<circle cx="339.2" cy="198.6" r="1.67" fill="#2c4a78"/>
<path d="M301.1 155.8L303.2 159.6L299.0 159.6Z" fill="#4a78b0"/>
<path d="M314.6 174.7L316.7 178.5L312.4 178.5Z" fill="#3684c0"/>
<path d="M324.8 186.7L327.0 190.6L322.7 190.6Z" fill="#4a78b0"/>
<rect x="300.6" y="181.5" width="3.3" height="3.3" fill="#4a6a8a"/>
<path d="M322.6 189.6L324.7 193.4L320.5 193.4Z" fill="#6a80a8"/>
<rect x="317.2" y="183.8" width="3.3" height="3.3" fill="#4a6a8a"/>
<path d="M325.7 191.3L327.9 195.2L323.6 195.2Z" fill="#3684c0"/>
<path d="M305.2 171.6L307.3 175.4L303.0 175.4Z" fill="#4a78b0"/>
<path d="M310.1 172.4L312.2 176.2L307.9 176.2Z" fill="#4a78b0"/>
<path d="M327.9 184.2L330.0 188.0L325.7 188.0Z" fill="#4a78b0"/>
<path d="M330.7 195.4L332.8 199.2L328.6 199.2Z" fill="#4a78b0"/>
<path d="M323.8 176.1L325.9 179.9L321.7 179.9Z" fill="#6a80a8"/>
<path d="M336.3 191.2L338.4 195.0L334.2 195.0Z" fill="#4a78b0"/>
<path d="M303.3 187.6L305.4 191.4L301.1 191.4Z" fill="#3684c0"/>
<path d="M339.5 185.8L341.6 189.6L337.4 189.6Z" fill="#3684c0"/>
<path d="M321.7 182.8L323.9 186.6L319.6 186.6Z" fill="#4a78b0"/>
<path d="M308.8 182.9L310.9 186.7L306.6 186.7Z" fill="#3684c0"/>
<path d="M318.9 181.8L321.0 185.6L316.7 185.6Z" fill="#4a78b0"/>
<path d="M325.3 184.0L327.5 187.8L323.2 187.8Z" fill="#3684c0"/>
<path d="M308.4 172.1L310.5 176.0L306.2 176.0Z" fill="#4a78b0"/>
<rect x="321.3" y="180.1" width="3.3" height="3.3" fill="#4a6a8a"/>
<path d="M315.8 184.7L317.9 188.6L313.6 188.6Z" fill="#3684c0"/>
<path d="M327.2 172.4L329.3 176.2L325.0 176.2Z" fill="#6a80a8"/>
<path d="M334.4 176.9L336.5 180.7L332.2 180.7Z" fill="#4a78b0"/>
<path d="M320.8 173.9L322.9 177.8L318.6 177.8Z" fill="#3684c0"/>
<path d="M324.0 189.4L326.2 193.2L321.9 193.2Z" fill="#4a78b0"/>
<path d="M302.4 189.7L304.5 193.5L300.3 193.5Z" fill="#4a78b0"/>
<circle cx="333.7" cy="179.4" r="1.67" fill="#2c4a78"/>
<path d="M306.0 174.8L308.1 178.6L303.9 178.6Z" fill="#4a78b0"/>
<path d="M308.3 177.9L310.4 181.7L306.2 181.7Z" fill="#2e8aa0"/>
<rect x="325.7" y="185.7" width="3.3" height="3.3" fill="#4a6a8a"/>
<path d="M327.8 187.5L329.9 191.3L325.7 191.3Z" fill="#6a80a8"/>
<path d="M324.5 163.4L326.6 167.3L322.3 167.3Z" fill="#4a78b0"/>
<circle cx="299.8" cy="194.4" r="1.67" fill="#2c4a78"/>
<path d="M313.0 200.8L315.1 204.6L310.9 204.6Z" fill="#3684c0"/>
<rect x="314.0" y="169.7" width="3.3" height="3.3" fill="#4a6a8a"/>
<path d="M292.5 175.9L294.6 179.7L290.3 179.7Z" fill="#6a80a8"/>
<circle cx="329.4" cy="181.9" r="1.67" fill="#2c4a78"/>
<circle cx="309.1" cy="178.0" r="1.67" fill="#2c4a78"/>
<path d="M315.1 179.1L317.3 183.0L313.0 183.0Z" fill="#4a78b0"/>
<path d="M319.3 185.1L321.4 188.9L317.2 188.9Z" fill="#6a80a8"/>
<path d="M330.0 184.1L332.2 187.9L327.9 187.9Z" fill="#4a78b0"/>
<path d="M321.6 184.8L323.7 188.6L319.4 188.6Z" fill="#4a78b0"/>
<circle cx="308.3" cy="170.5" r="1.67" fill="#2c4a78"/>
<circle cx="332.2" cy="195.6" r="1.67" fill="#2c4a78"/>
<path d="M333.3 173.6L335.4 177.4L331.1 177.4Z" fill="#3684c0"/>
<path d="M339.3 198.9L341.5 202.7L337.2 202.7Z" fill="#6a80a8"/>
<path d="M324.3 183.9L326.5 187.8L322.2 187.8Z" fill="#6a80a8"/>
<path d="M320.1 185.3L322.2 189.1L317.9 189.1Z" fill="#4a78b0"/>
<path d="M329.2 175.4L331.3 179.2L327.0 179.2Z" fill="#6a80a8"/>
<path d="M312.7 175.2L314.8 179.0L310.6 179.0Z" fill="#2e8aa0"/>
<path d="M332.8 197.7L334.9 201.6L330.6 201.6Z" fill="#4a78b0"/>
<path d="M309.2 188.1L311.4 191.9L307.1 191.9Z" fill="#4a78b0"/>
<path d="M315.0 189.1L317.1 192.9L312.8 192.9Z" fill="#4a78b0"/>
<circle cx="308.2" cy="187.0" r="1.67" fill="#2c4a78"/>
<path d="M292.8 172.3L294.9 176.1L290.7 176.1Z" fill="#6a80a8"/>
<rect x="328.8" y="190.2" width="3.3" height="3.3" fill="#4a6a8a"/>
<path d="M322.6 176.4L324.8 180.2L320.5 180.2Z" fill="#3684c0"/>
<circle cx="309.7" cy="180.1" r="1.67" fill="#2c4a78"/>
<path d="M335.0 198.9L337.2 202.8L332.9 202.8Z" fill="#6a80a8"/>
<path d="M326.7 186.4L328.8 190.3L324.6 190.3Z" fill="#4a78b0"/>
<circle cx="319.2" cy="185.4" r="1.67" fill="#2c4a78"/>
<path d="M294.6 174.3L296.7 178.1L292.4 178.1Z" fill="#3684c0"/>
<path d="M305.9 178.3L308.0 182.1L303.8 182.1Z" fill="#4a78b0"/>
<path d="M308.3 200.9L310.4 204.7L306.2 204.7Z" fill="#2e8aa0"/>
<path d="M317.6 196.6L319.7 200.4L315.5 200.4Z" fill="#4a78b0"/>
<path d="M329.3 195.8L331.5 199.6L327.2 199.6Z" fill="#3684c0"/>
<path d="M327.5 172.9L329.6 176.8L325.4 176.8Z" fill="#4a78b0"/>
<path d="M311.7 174.1L313.8 178.0L309.6 178.0Z" fill="#2e8aa0"/>
<path d="M292.4 184.4L294.5 188.2L290.2 188.2Z" fill="#3684c0"/>
<path d="M320.7 182.6L322.8 186.5L318.6 186.5Z" fill="#4a78b0"/>
<path d="M308.9 198.8L311.0 202.7L306.7 202.7Z" fill="#4a78b0"/>
<path d="M295.0 195.4L297.1 199.3L292.8 199.3Z" fill="#3684c0"/>
<path d="M296.8 188.7L299.0 192.5L294.7 192.5Z" fill="#4a78b0"/>
<circle cx="304.2" cy="180.4" r="1.67" fill="#2c4a78"/>
<path d="M302.4 190.0L304.5 193.8L300.3 193.8Z" fill="#3684c0"/>
<path d="M298.8 178.5L300.9 182.3L296.7 182.3Z" fill="#2e8aa0"/>
<path d="M294.4 190.8L296.5 194.6L292.3 194.6Z" fill="#4a78b0"/>
<path d="M308.7 191.6L310.8 195.5L306.6 195.5Z" fill="#3684c0"/>
<path d="M304.3 190.8L306.4 194.6L302.2 194.6Z" fill="#6a80a8"/>
<path d="M300.6 175.8L302.8 179.6L298.5 179.6Z" fill="#4a78b0"/>
<path d="M306.5 190.6L308.6 194.5L304.4 194.5Z" fill="#4a78b0"/>
<path d="M300.5 186.4L302.6 190.2L298.4 190.2Z" fill="#3684c0"/>
<path d="M310.1 202.0L312.2 205.8L307.9 205.8Z" fill="#3684c0"/>
<circle cx="316.3" cy="198.2" r="1.67" fill="#2c4a78"/>
<path d="M291.1 198.3L293.3 202.2L289.0 202.2Z" fill="#4a78b0"/>
<path d="M303.3 180.5L305.5 184.3L301.2 184.3Z" fill="#2e8aa0"/>
<path d="M302.2 184.7L304.3 188.5L300.0 188.5Z" fill="#4a78b0"/>
<circle cx="298.1" cy="159.8" r="1.90" fill="#80b890"/>
<rect x="299.3" y="150.1" width="2.9" height="2.9" fill="#7eb08c"/>
<circle cx="295.6" cy="154.9" r="1.45" fill="#86bc94"/>
<circle cx="295.4" cy="155.9" r="1.90" fill="#80b890"/>
<path d="M303.0 154.3L304.8 157.6L301.1 157.6Z" fill="#88b898"/>
<circle cx="299.0" cy="153.8" r="1.45" fill="#86bc94"/>
<circle cx="297.4" cy="148.9" r="1.90" fill="#80b890"/>
<path d="M296.3 147.8L298.1 151.2L294.4 151.2Z" fill="#88b898"/>
<circle cx="295.9" cy="154.7" r="1.45" fill="#86bc94"/>
<rect x="296.1" y="155.9" width="2.9" height="2.9" fill="#7eb08c"/>
<rect x="299.0" y="149.8" width="2.9" height="2.9" fill="#7eb08c"/>
<circle cx="299.0" cy="164.2" r="1.45" fill="#86bc94"/>
<rect x="294.2" y="154.0" width="2.9" height="2.9" fill="#7eb08c"/>
<circle cx="301.6" cy="157.6" r="1.45" fill="#86bc94"/>
<circle cx="299.8" cy="154.1" r="1.45" fill="#86bc94"/>
<rect x="298.8" y="157.3" width="2.9" height="2.9" fill="#7eb08c"/>
<circle cx="303.2" cy="166.4" r="1.45" fill="#86bc94"/>
<path d="M295.1 158.7H298.7M296.9 156.9V160.5" stroke="#92c09e" stroke-width="0.9" fill="none"/>
<circle cx="292.1" cy="157.0" r="1.45" fill="#86bc94"/>
<circle cx="293.6" cy="151.8" r="1.45" fill="#86bc94"/>
<circle cx="289.7" cy="165.5" r="1.45" fill="#86bc94"/>
<circle cx="297.2" cy="154.4" r="1.90" fill="#80b890"/>
<path d="M308.3 167.2L310.2 170.5L306.5 170.5Z" fill="#88b898"/>
<rect x="300.9" y="158.9" width="2.9" height="2.9" fill="#7eb08c"/>
<rect x="302.2" y="158.0" width="2.9" height="2.9" fill="#7eb08c"/>
<rect x="296.2" y="153.1" width="2.9" height="2.9" fill="#7eb08c"/>
<circle cx="300.2" cy="167.1" r="1.90" fill="#80b890"/>
<path d="M294.1 158.4H297.7M295.9 156.6V160.2" stroke="#92c09e" stroke-width="0.9" fill="none"/>
<path d="M295.0 159.6L298.2 162.8M298.2 159.6L295.0 162.8" stroke="#84b494" stroke-width="0.9" fill="none"/>
<circle cx="300.4" cy="150.0" r="1.90" fill="#80b890"/>
<circle cx="293.3" cy="160.2" r="1.45" fill="#86bc94"/>
<circle cx="303.1" cy="157.9" r="1.90" fill="#80b890"/>
<circle cx="302.5" cy="150.6" r="1.45" fill="#86bc94"/>
<rect x="296.0" y="163.6" width="2.9" height="2.9" fill="#7eb08c"/>
<circle cx="301.1" cy="155.0" r="1.90" fill="#80b890"/>
<path d="M296.9 162.2L300.1 165.4M300.1 162.2L296.9 165.4" stroke="#84b494" stroke-width="0.9" fill="none"/>
<circle cx="296.4" cy="160.4" r="1.90" fill="#80b890"/>
<circle cx="298.4" cy="155.0" r="1.90" fill="#80b890"/>
<circle cx="297.4" cy="164.4" r="1.90" fill="#80b890"/>
<rect x="293.3" y="152.0" width="2.9" height="2.9" fill="#7eb08c"/>
<rect x="305.5" y="153.3" width="2.9" height="2.9" fill="#7eb08c"/>
<circle cx="303.6" cy="149.4" r="1.90" fill="#80b890"/>
<path d="M304.4 164.4L306.2 167.8L302.5 167.8Z" fill="#88b898"/>
<circle cx="299.7" cy="159.1" r="1.45" fill="#86bc94"/>
<path d="M295.3 155.9H298.9M297.1 154.1V157.7" stroke="#92c09e" stroke-width="0.9" fill="none"/>
<circle cx="301.0" cy="161.9" r="1.90" fill="#80b890"/>
<path d="M297.5 159.5L299.4 162.8L295.7 162.8Z" fill="#88b898"/>
<path d="M297.9 156.1H301.5M299.7 154.3V157.9" stroke="#92c09e" stroke-width="0.9" fill="none"/>
<path d="M291.3 151.9L294.5 155.1M294.5 151.9L291.3 155.1" stroke="#84b494" stroke-width="0.9" fill="none"/>
<circle cx="305.2" cy="153.6" r="1.45" fill="#86bc94"/>
<path d="M299.6 164.7L302.8 167.9M302.8 164.7L299.6 167.9" stroke="#84b494" stroke-width="0.9" fill="none"/>
<circle cx="298.8" cy="153.6" r="1.45" fill="#86bc94"/>
<path d="M294.1 156.1L297.3 159.3M297.3 156.1L294.1 159.3" stroke="#84b494" stroke-width="0.9" fill="none"/>
<circle cx="302.4" cy="163.5" r="1.90" fill="#80b890"/>
<circle cx="296.5" cy="159.6" r="1.90" fill="#80b890"/>
<rect x="291.9" y="157.6" width="2.9" height="2.9" fill="#7eb08c"/>
<path d="M306.0 157.8L309.2 161.0M309.2 157.8L306.0 161.0" stroke="#84b494" stroke-width="0.9" fill="none"/>
<rect x="291.4" y="154.7" width="2.9" height="2.9" fill="#7eb08c"/>
<path d="M294.1 161.1L297.3 164.3M297.3 161.1L294.1 164.3" stroke="#84b494" stroke-width="0.9" fill="none"/>
<path d="M302.9 162.2H306.5M304.7 160.4V164.0" stroke="#92c09e" stroke-width="0.9" fill="none"/>
<circle cx="326.1" cy="166.9" r="1.45" fill="#86bc94"/>
<circle cx="323.8" cy="163.1" r="1.45" fill="#86bc94"/>
<path d="M309.0 158.3H312.6M310.8 156.5V160.1" stroke="#92c09e" stroke-width="0.9" fill="none"/>
<path d="M325.7 166.2L328.9 169.4M328.9 166.2L325.7 169.4" stroke="#84b494" stroke-width="0.9" fill="none"/>
<circle cx="308.5" cy="165.0" r="1.45" fill="#86bc94"/>
<rect x="308.6" y="157.7" width="2.9" height="2.9" fill="#7eb08c"/>
<path d="M317.9 164.7L319.8 168.0L316.1 168.0Z" fill="#88b898"/>
<rect x="306.4" y="153.1" width="2.9" height="2.9" fill="#7eb08c"/>
<circle cx="322.5" cy="160.2" r="1.90" fill="#80b890"/>
<circle cx="315.0" cy="165.8" r="1.45" fill="#86bc94"/>
<path d="M312.3 153.7H315.9M314.1 151.9V155.5" stroke="#92c09e" stroke-width="0.9" fill="none"/>
<rect x="313.1" y="162.3" width="2.9" height="2.9" fill="#7eb08c"/>
<circle cx="312.9" cy="153.8" r="1.45" fill="#86bc94"/>
<circle cx="319.2" cy="153.5" r="1.90" fill="#80b890"/>
<circle cx="322.7" cy="165.3" r="1.45" fill="#86bc94"/>
<circle cx="319.7" cy="172.1" r="1.90" fill="#80b890"/>
<circle cx="314.4" cy="153.8" r="1.45" fill="#86bc94"/>
<path d="M311.0 155.6H314.6M312.8 153.8V157.4" stroke="#92c09e" stroke-width="0.9" fill="none"/>
<circle cx="317.3" cy="156.1" r="1.45" fill="#86bc94"/>
<circle cx="317.8" cy="168.3" r="1.45" fill="#86bc94"/>
<rect x="317.6" y="159.0" width="2.9" height="2.9" fill="#7eb08c"/>
<circle cx="328.0" cy="168.4" r="1.90" fill="#80b890"/>
<path d="M314.1 157.5H317.7M315.9 155.7V159.3" stroke="#92c09e" stroke-width="0.9" fill="none"/>
<path d="M320.4 156.7L323.6 159.9M323.6 156.7L320.4 159.9" stroke="#84b494" stroke-width="0.9" fill="none"/>
<circle cx="314.2" cy="164.6" r="1.90" fill="#80b890"/>
<circle cx="301.6" cy="148.5" r="1.45" fill="#7eb68c"/>
<rect x="274.6" y="168.2" width="2.9" height="2.9" fill="#9aa8a0"/>
<rect x="285.4" y="161.2" width="2.9" height="2.9" fill="#9ab8a0"/>
<circle cx="343.5" cy="213.3" r="1.90" fill="#7a3aa0"/>
<circle cx="356.1" cy="212.4" r="1.90" fill="#9a4ab0"/>
<circle cx="356.7" cy="216.8" r="1.90" fill="#7a3aa0"/>
<rect x="353.3" y="205.6" width="2.9" height="2.9" fill="#7a2a9e"/>
<circle cx="344.9" cy="214.8" r="1.90" fill="#7a3aa0"/>
<circle cx="355.6" cy="209.2" r="1.90" fill="#9a4ab0"/>
<rect x="354.3" y="213.3" width="2.9" height="2.9" fill="#7a2a9e"/>
<circle cx="350.5" cy="210.8" r="1.90" fill="#7a3aa0"/>
<circle cx="349.0" cy="207.4" r="1.90" fill="#7a3aa0"/>
<circle cx="358.6" cy="215.8" r="1.90" fill="#9a4ab0"/>
<circle cx="357.9" cy="211.0" r="1.90" fill="#7a3aa0"/>
<circle cx="349.7" cy="206.5" r="1.90" fill="#7a3aa0"/>
<circle cx="351.2" cy="201.4" r="1.90" fill="#7a3aa0"/>
<circle cx="349.7" cy="207.7" r="1.45" fill="#5a2a7a"/>
<circle cx="348.6" cy="204.1" r="1.45" fill="#5a2a7a"/>
<circle cx="349.7" cy="224.2" r="1.90" fill="#9a4ab0"/>
<circle cx="350.9" cy="210.1" r="1.45" fill="#5a2a7a"/>
<circle cx="350.8" cy="208.0" r="1.45" fill="#5a2a7a"/>
<circle cx="349.6" cy="206.7" r="1.90" fill="#7a3aa0"/>
<circle cx="348.3" cy="210.2" r="1.45" fill="#5a2a7a"/>
<circle cx="345.2" cy="207.3" r="1.90" fill="#7a3aa0"/>
<circle cx="355.5" cy="217.8" r="1.45" fill="#5a2a7a"/>
<circle cx="345.7" cy="203.9" r="1.90" fill="#7a3aa0"/>
<rect x="341.9" y="214.9" width="2.9" height="2.9" fill="#7a2a9e"/>
<circle cx="351.4" cy="203.1" r="1.90" fill="#9a4ab0"/>
<circle cx="362.5" cy="215.5" r="1.90" fill="#7a3aa0"/>
<circle cx="352.1" cy="205.6" r="1.45" fill="#5a2a7a"/>
<rect x="357.9" y="207.1" width="2.9" height="2.9" fill="#7a2a9e"/>
<rect x="346.6" y="214.0" width="2.9" height="2.9" fill="#7a2a9e"/>
<circle cx="344.6" cy="215.8" r="1.90" fill="#9a4ab0"/>
<rect x="355.8" y="202.5" width="2.9" height="2.9" fill="#7a2a9e"/>
<circle cx="353.9" cy="210.0" r="1.90" fill="#7a3aa0"/>
<rect x="340.7" y="203.3" width="2.9" height="2.9" fill="#7a2a9e"/>
<circle cx="359.1" cy="212.7" r="1.90" fill="#9a4ab0"/>
<circle cx="354.4" cy="204.7" r="1.45" fill="#5a2a7a"/>
<circle cx="355.4" cy="202.0" r="1.90" fill="#7a3aa0"/>
<circle cx="347.0" cy="218.0" r="1.90" fill="#a02a44"/>
<circle cx="345.0" cy="219.5" r="1.90" fill="#a02a44"/>
<circle cx="349.0" cy="221.0" r="1.90" fill="#a02a44"/>
<rect x="344.7" y="194.1" width="2.9" height="2.9" fill="#e09090"/>
<circle cx="336.3" cy="195.2" r="1.90" fill="#e8a0a0"/>
<circle cx="343.0" cy="190.0" r="1.90" fill="#e8a0a0"/>
<circle cx="338.3" cy="194.2" r="1.90" fill="#e8a0a0"/>
<circle cx="343.8" cy="199.2" r="1.90" fill="#e8a0a0"/>
<circle cx="344.1" cy="193.8" r="1.90" fill="#e8905a"/>
<circle cx="345.4" cy="192.2" r="1.90" fill="#e8a0a0"/>
<circle cx="335.5" cy="193.9" r="1.90" fill="#e8a0a0"/>
<circle cx="338.5" cy="196.5" r="1.90" fill="#e8905a"/>
<rect x="342.5" y="197.4" width="2.9" height="2.9" fill="#e09090"/>
<circle cx="381.2" cy="227.4" r="1.90" fill="#d8483a"/>
<path d="M366.6 228.2L369.8 231.4M369.8 228.2L366.6 231.4" stroke="#d84040" stroke-width="0.9" fill="none"/>
<circle cx="412.3" cy="263.7" r="1.90" fill="#d8483a"/>
<path d="M389.6 244.9L391.5 248.2L387.8 248.2Z" fill="#9a2a3c"/>
<rect x="383.5" y="243.7" width="2.9" height="2.9" fill="#b83a3c"/>
<circle cx="379.0" cy="232.3" r="1.45" fill="#c8303a"/>
<circle cx="402.5" cy="248.7" r="1.90" fill="#d8483a"/>
<path d="M373.1 225.4L376.3 228.6M376.3 225.4L373.1 228.6" stroke="#d84040" stroke-width="0.9" fill="none"/>
<circle cx="354.4" cy="222.7" r="1.90" fill="#e2705a"/>
<circle cx="400.6" cy="230.9" r="1.90" fill="#e2705a"/>
<circle cx="387.3" cy="239.7" r="1.45" fill="#c8303a"/>
<circle cx="383.4" cy="236.9" r="1.90" fill="#d8483a"/>
<path d="M390.2 234.3L393.4 237.5M393.4 234.3L390.2 237.5" stroke="#d84040" stroke-width="0.9" fill="none"/>
<circle cx="384.9" cy="235.4" r="1.90" fill="#eaa090"/>
<circle cx="375.7" cy="232.4" r="1.90" fill="#e2705a"/>
<circle cx="375.8" cy="239.8" r="1.90" fill="#eaa090"/>
<circle cx="397.5" cy="243.0" r="1.90" fill="#e2705a"/>
<path d="M374.5 228.8L376.3 232.1L372.6 232.1Z" fill="#9a2a3c"/>
<circle cx="388.6" cy="239.2" r="1.90" fill="#eaa090"/>
<circle cx="377.4" cy="238.3" r="1.90" fill="#d8483a"/>
<circle cx="401.3" cy="240.8" r="1.90" fill="#eaa090"/>
<circle cx="390.1" cy="229.3" r="1.90" fill="#d8483a"/>
<circle cx="384.7" cy="236.4" r="1.90" fill="#e2705a"/>
<circle cx="390.1" cy="223.1" r="1.90" fill="#d8483a"/>
<circle cx="372.3" cy="237.1" r="1.90" fill="#e2705a"/>
<circle cx="386.4" cy="242.0" r="1.90" fill="#e2705a"/>
<circle cx="386.7" cy="244.1" r="1.45" fill="#c8303a"/>
<circle cx="379.5" cy="237.0" r="1.90" fill="#d8483a"/>
<circle cx="397.2" cy="246.7" r="1.90" fill="#e2705a"/>
<circle cx="402.7" cy="253.6" r="1.90" fill="#d8483a"/>
<circle cx="403.2" cy="244.1" r="1.45" fill="#c8303a"/>
<circle cx="385.4" cy="243.4" r="1.90" fill="#eaa090"/>
<circle cx="402.2" cy="243.2" r="1.90" fill="#d8483a"/>
<circle cx="370.9" cy="228.7" r="1.90" fill="#e2705a"/>
<rect x="364.2" y="222.9" width="2.9" height="2.9" fill="#b83a3c"/>
<circle cx="380.5" cy="236.1" r="1.90" fill="#d8483a"/>
<circle cx="376.1" cy="229.1" r="1.90" fill="#e2705a"/>
<circle cx="376.3" cy="238.2" r="1.90" fill="#eaa090"/>
<circle cx="371.7" cy="241.3" r="1.90" fill="#d8483a"/>
<circle cx="383.5" cy="243.3" r="1.45" fill="#c8303a"/>
<circle cx="386.2" cy="235.7" r="1.45" fill="#c8303a"/>
<circle cx="399.3" cy="252.8" r="1.90" fill="#eaa090"/>
<circle cx="380.0" cy="241.5" r="1.90" fill="#e2705a"/>
<circle cx="378.3" cy="237.0" r="1.45" fill="#c8303a"/>
<path d="M418.9 258.2L420.7 261.5L417.0 261.5Z" fill="#9a2a3c"/>
<circle cx="386.4" cy="241.5" r="1.90" fill="#eaa090"/>
<circle cx="394.8" cy="248.3" r="1.90" fill="#eaa090"/>
<circle cx="383.0" cy="235.2" r="1.45" fill="#c8303a"/>
<rect x="374.8" y="232.5" width="2.9" height="2.9" fill="#b83a3c"/>
<circle cx="391.1" cy="233.5" r="1.90" fill="#d8483a"/>
<circle cx="356.6" cy="222.8" r="1.90" fill="#d8483a"/>
<circle cx="376.7" cy="229.1" r="1.45" fill="#c8303a"/>
<circle cx="388.6" cy="228.0" r="1.90" fill="#d8483a"/>
<circle cx="384.2" cy="237.9" r="1.90" fill="#d8483a"/>
<circle cx="372.5" cy="228.0" r="1.90" fill="#e2705a"/>
<circle cx="372.0" cy="219.9" r="1.90" fill="#d8483a"/>
<rect x="374.6" y="226.5" width="2.9" height="2.9" fill="#b83a3c"/>
<circle cx="383.4" cy="228.2" r="1.90" fill="#d8483a"/>
<circle cx="396.8" cy="250.1" r="1.90" fill="#e2705a"/>
<circle cx="398.4" cy="234.2" r="1.45" fill="#c8303a"/>
<path d="M401.6 250.1L404.8 253.3M404.8 250.1L401.6 253.3" stroke="#d84040" stroke-width="0.9" fill="none"/>
<path d="M387.1 233.8L390.3 237.0M390.3 233.8L387.1 237.0" stroke="#d84040" stroke-width="0.9" fill="none"/>
<circle cx="388.9" cy="233.5" r="1.90" fill="#d8483a"/>
<circle cx="367.8" cy="231.6" r="1.90" fill="#d8483a"/>
<circle cx="370.1" cy="225.1" r="1.90" fill="#d8483a"/>
<path d="M387.6 246.5L390.8 249.7M390.8 246.5L387.6 249.7" stroke="#d84040" stroke-width="0.9" fill="none"/>
<rect x="388.0" y="233.8" width="2.9" height="2.9" fill="#b83a3c"/>
<circle cx="364.1" cy="230.1" r="1.90" fill="#e2705a"/>
<circle cx="405.5" cy="238.6" r="1.90" fill="#d8483a"/>
<path d="M366.9 222.5L370.1 225.7M370.1 222.5L366.9 225.7" stroke="#d84040" stroke-width="0.9" fill="none"/>
<path d="M405.5 253.9L408.7 257.1M408.7 253.9L405.5 257.1" stroke="#d84040" stroke-width="0.9" fill="none"/>
<circle cx="381.5" cy="237.5" r="1.45" fill="#c8303a"/>
<circle cx="382.9" cy="233.7" r="1.45" fill="#c8303a"/>
<circle cx="381.0" cy="229.4" r="1.90" fill="#d8483a"/>
<circle cx="372.5" cy="222.2" r="1.90" fill="#d8483a"/>
<path d="M379.5 229.2L382.7 232.4M382.7 229.2L379.5 232.4" stroke="#d84040" stroke-width="0.9" fill="none"/>
<circle cx="381.4" cy="232.1" r="1.90" fill="#eaa090"/>
<circle cx="368.4" cy="225.2" r="1.90" fill="#d8483a"/>
<circle cx="386.2" cy="243.0" r="1.45" fill="#c8303a"/>
<circle cx="367.3" cy="216.0" r="1.90" fill="#d8483a"/>
<circle cx="367.9" cy="219.1" r="1.90" fill="#d8483a"/>
<circle cx="399.8" cy="232.1" r="1.90" fill="#d8483a"/>
<path d="M360.1 223.8L362.0 227.1L358.3 227.1Z" fill="#9a2a3c"/>
<path d="M354.4 225.0L357.6 228.2M357.6 225.0L354.4 228.2" stroke="#d84040" stroke-width="0.9" fill="none"/>
<circle cx="374.7" cy="234.1" r="1.90" fill="#e2705a"/>
<circle cx="371.0" cy="209.0" r="1.90" fill="#e06a50"/>
<circle cx="383.0" cy="220.0" r="1.90" fill="#e06a50"/>
<circle cx="399.0" cy="232.0" r="1.90" fill="#eaa0a0"/>
<path d="M403.4 259.9L406.6 263.1M406.6 259.9L403.4 263.1" stroke="#b03040" stroke-width="0.9" fill="none"/>
<path d="M406.4 258.0L409.6 261.2M409.6 258.0L406.4 261.2" stroke="#b03040" stroke-width="0.9" fill="none"/>
<path d="M404.9 262.4L408.1 265.6M408.1 262.4L404.9 265.6" stroke="#b03040" stroke-width="0.9" fill="none"/>
<circle cx="414.0" cy="257.3" r="1.45" fill="#c04048"/>
<rect x="406.2" y="270.6" width="2.9" height="2.9" fill="#b25450"/>
<rect x="413.2" y="273.4" width="2.9" height="2.9" fill="#b25450"/>
<rect x="419.4" y="273.4" width="2.9" height="2.9" fill="#b25450"/>
<rect x="425.1" y="274.2" width="2.9" height="2.9" fill="#b25450"/>
<rect x="411.2" y="280.9" width="2.9" height="2.9" fill="#b25450"/>
<rect x="412.4" y="281.6" width="2.9" height="2.9" fill="#b25450"/>
<rect x="423.2" y="280.9" width="2.9" height="2.9" fill="#b25450"/>
<rect x="418.6" y="283.9" width="2.9" height="2.9" fill="#b25450"/>
<rect x="423.2" y="284.6" width="2.9" height="2.9" fill="#b25450"/>
<rect x="419.4" y="287.1" width="2.9" height="2.9" fill="#b25450"/>
<rect x="422.4" y="288.2" width="2.9" height="2.9" fill="#b25450"/>
<rect x="425.9" y="290.9" width="2.9" height="2.9" fill="#b25450"/>
<rect x="429.4" y="287.8" width="2.9" height="2.9" fill="#b25450"/>
<rect x="428.6" y="290.9" width="2.9" height="2.9" fill="#b25450"/>
<rect x="430.1" y="296.2" width="2.9" height="2.9" fill="#b25450"/>
<rect x="431.6" y="295.8" width="2.9" height="2.9" fill="#b25450"/>
<rect x="421.4" y="299.8" width="2.9" height="2.9" fill="#b25450"/>
<rect x="438.2" y="303.2" width="2.9" height="2.9" fill="#b25450"/>
<circle cx="303.0" cy="221.8" r="1.90" fill="#f0a8a8"/>
<path d="M348.4 240.3H352.0M350.2 238.5V242.1" stroke="#e8a8b4" stroke-width="0.9" fill="none"/>
<path d="M340.8 242.8H344.4M342.6 241.0V244.6" stroke="#e8a8b4" stroke-width="0.9" fill="none"/>
<rect x="338.3" y="235.8" width="2.9" height="2.9" fill="#e89098"/>
<circle cx="327.2" cy="227.2" r="1.90" fill="#f0a8a8"/>
<circle cx="340.8" cy="241.9" r="1.90" fill="#f0a8a8"/>
<circle cx="337.4" cy="237.7" r="1.90" fill="#f0a8a8"/>
<rect x="340.1" y="226.2" width="2.9" height="2.9" fill="#e89098"/>
<circle cx="344.3" cy="231.4" r="1.45" fill="#e890a0"/>
<path d="M343.7 244.1H347.3M345.5 242.3V245.9" stroke="#e8a8b4" stroke-width="0.9" fill="none"/>
<path d="M328.6 227.4L331.8 230.6M331.8 227.4L328.6 230.6" stroke="#eaa0a8" stroke-width="0.9" fill="none"/>
<circle cx="346.1" cy="239.4" r="1.90" fill="#f0a8a8"/>
<path d="M320.0 225.2L323.2 228.4M323.2 225.2L320.0 228.4" stroke="#eaa0a8" stroke-width="0.9" fill="none"/>
<rect x="326.5" y="234.4" width="2.9" height="2.9" fill="#e89098"/>
<circle cx="339.7" cy="243.7" r="1.45" fill="#e890a0"/>
<rect x="322.7" y="227.3" width="2.9" height="2.9" fill="#e89098"/>
<circle cx="326.6" cy="230.0" r="1.90" fill="#f0a8a8"/>
<path d="M334.7 238.3L337.9 241.5M337.9 238.3L334.7 241.5" stroke="#eaa0a8" stroke-width="0.9" fill="none"/>
<circle cx="328.5" cy="235.6" r="1.90" fill="#f0a8a8"/>
<path d="M313.1 218.6L316.3 221.8M316.3 218.6L313.1 221.8" stroke="#eaa0a8" stroke-width="0.9" fill="none"/>
<circle cx="320.1" cy="223.3" r="1.45" fill="#e890a0"/>
<path d="M330.2 226.5L333.4 229.7M333.4 226.5L330.2 229.7" stroke="#eaa0a8" stroke-width="0.9" fill="none"/>
<circle cx="325.1" cy="225.8" r="1.90" fill="#f0a8a8"/>
<circle cx="330.7" cy="236.9" r="1.90" fill="#f0a8a8"/>
<circle cx="319.8" cy="231.1" r="1.90" fill="#f0a8a8"/>
<path d="M314.4 230.9L317.6 234.1M317.6 230.9L314.4 234.1" stroke="#eaa0a8" stroke-width="0.9" fill="none"/>
<path d="M320.3 223.9L323.5 227.1M323.5 223.9L320.3 227.1" stroke="#eaa0a8" stroke-width="0.9" fill="none"/>
<path d="M339.0 237.5L342.2 240.7M342.2 237.5L339.0 240.7" stroke="#eaa0a8" stroke-width="0.9" fill="none"/>
<circle cx="333.3" cy="236.5" r="1.45" fill="#e890a0"/>
<path d="M326.5 232.4H330.1M328.3 230.6V234.2" stroke="#e8a8b4" stroke-width="0.9" fill="none"/>
<circle cx="315.1" cy="226.7" r="1.90" fill="#f0a8a8"/>
<path d="M328.4 244.4L331.6 247.6M331.6 244.4L328.4 247.6" stroke="#eaa0a8" stroke-width="0.9" fill="none"/>
<circle cx="335.4" cy="240.1" r="1.45" fill="#e890a0"/>
<circle cx="328.6" cy="225.3" r="1.90" fill="#f0a8a8"/>
<path d="M338.1 233.2H341.7M339.9 231.4V235.0" stroke="#e8a8b4" stroke-width="0.9" fill="none"/>
<circle cx="335.3" cy="227.1" r="1.45" fill="#e890a0"/>
<circle cx="339.1" cy="230.3" r="1.90" fill="#f0a8a8"/>
<rect x="341.4" y="247.1" width="2.9" height="2.9" fill="#e89098"/>
<path d="M334.9 228.2L338.1 231.4M338.1 228.2L334.9 231.4" stroke="#eaa0a8" stroke-width="0.9" fill="none"/>
<circle cx="345.6" cy="240.9" r="1.90" fill="#f0a8a8"/>
<circle cx="341.1" cy="229.1" r="1.90" fill="#f0a8a8"/>
<circle cx="322.1" cy="231.8" r="1.45" fill="#e890a0"/>
<circle cx="332.5" cy="230.0" r="1.90" fill="#f0a8a8"/>
<circle cx="323.4" cy="226.8" r="1.90" fill="#f0a8a8"/>
<circle cx="341.1" cy="229.6" r="1.90" fill="#f0a8a8"/>
<circle cx="325.4" cy="231.0" r="1.90" fill="#f0a8a8"/>
<circle cx="337.7" cy="243.0" r="1.90" fill="#f0a8a8"/>
<circle cx="348.7" cy="250.7" r="1.90" fill="#f0a8a8"/>
<circle cx="346.5" cy="234.7" r="1.90" fill="#f0a8a8"/>
<rect x="331.2" y="238.3" width="2.9" height="2.9" fill="#e89098"/>
<circle cx="341.6" cy="192.1" r="1.90" fill="#e07a7a"/>
<circle cx="328.8" cy="192.2" r="1.45" fill="#d86a7e"/>
<circle cx="322.6" cy="188.6" r="1.45" fill="#d86a7e"/>
<circle cx="332.4" cy="191.3" r="1.45" fill="#d86a7e"/>
<rect x="334.3" y="194.7" width="2.9" height="2.9" fill="#c87a8c"/>
<rect x="345.7" y="188.6" width="2.9" height="2.9" fill="#c87a8c"/>
<circle cx="343.9" cy="194.3" r="1.45" fill="#d86a7e"/>
<circle cx="325.6" cy="217.0" r="1.45" fill="#2e4a5a"/>
<circle cx="330.7" cy="214.7" r="1.45" fill="#2e4a5a"/>
<circle cx="336.0" cy="214.0" r="1.45" fill="#2e4a5a"/>
<circle cx="331.5" cy="221.5" r="1.45" fill="#2e4a5a"/>
<circle cx="320.0" cy="212.0" r="1.45" fill="#2e4a5a"/>
<path d="M311.9 215.2L315.1 218.4M315.1 215.2L311.9 218.4" stroke="#3a5a6a" stroke-width="0.9" fill="none"/>
<path d="M265.8 271.7L269.0 274.9M269.0 271.7L265.8 274.9" stroke="#4a8a8a" stroke-width="0.9" fill="none"/>
<circle cx="274.4" cy="274.1" r="1.45" fill="#4a9090"/>
<path d="M262.3 265.2L265.5 268.4M265.5 265.2L262.3 268.4" stroke="#4a8a8a" stroke-width="0.9" fill="none"/>
<path d="M264.0 272.2L267.2 275.4M267.2 272.2L264.0 275.4" stroke="#4a8a8a" stroke-width="0.9" fill="none"/>
<path d="M266.0 282.2L269.2 285.4M269.2 282.2L266.0 285.4" stroke="#4a8a8a" stroke-width="0.9" fill="none"/>
<circle cx="269.6" cy="274.9" r="1.45" fill="#4a9090"/>
<circle cx="268.9" cy="269.0" r="1.45" fill="#4a9090"/>
<circle cx="273.4" cy="272.6" r="1.45" fill="#4a9090"/>
<path d="M268.5 277.5L271.7 280.7M271.7 277.5L268.5 280.7" stroke="#4a8a8a" stroke-width="0.9" fill="none"/>
<rect x="270.3" y="275.6" width="2.9" height="2.9" fill="#3a7a80"/>
<rect x="267.3" y="271.6" width="2.9" height="2.9" fill="#3a7a80"/>
<circle cx="270.4" cy="274.2" r="1.45" fill="#4a9090"/>
<path d="M270.0 270.5L273.2 273.7M273.2 270.5L270.0 273.7" stroke="#4a8a8a" stroke-width="0.9" fill="none"/>
<rect x="272.1" y="273.6" width="2.9" height="2.9" fill="#3a7a80"/>
</g>
<circle cx="118.7" cy="230.4" r="2.75" fill="#3e5c4a" stroke="#1b2620" stroke-width="0.9"/>
<circle cx="104.0" cy="245.1" r="2.75" fill="#3e5c4a" stroke="#1b2620" stroke-width="0.9"/>
<circle cx="117.5" cy="245.4" r="2.75" fill="#3e5c4a" stroke="#1b2620" stroke-width="0.9"/>
<circle cx="133.5" cy="251.7" r="2.75" fill="#3e5c4a" stroke="#1b2620" stroke-width="0.9"/>
<circle cx="139.2" cy="248.9" r="2.75" fill="#3e5c4a" stroke="#1b2620" stroke-width="0.9"/>
<circle cx="162.0" cy="246.5" r="2.75" fill="#3e5c4a" stroke="#1b2620" stroke-width="0.9"/>
<circle cx="104.0" cy="257.2" r="2.75" fill="#3e5c4a" stroke="#1b2620" stroke-width="0.9"/>
<circle cx="114.9" cy="259.0" r="2.75" fill="#3e5c4a" stroke="#1b2620" stroke-width="0.9"/>
<circle cx="119.6" cy="254.6" r="2.75" fill="#3e5c4a" stroke="#1b2620" stroke-width="0.9"/>
<circle cx="118.7" cy="259.8" r="2.75" fill="#3e5c4a" stroke="#1b2620" stroke-width="0.9"/>
<circle cx="148.2" cy="264.7" r="2.75" fill="#3e5c4a" stroke="#1b2620" stroke-width="0.9"/>
<circle cx="91.0" cy="295.0" r="2.75" fill="#4674a0" stroke="#1d3346" stroke-width="0.9"/>
<circle cx="98.3" cy="292.7" r="2.75" fill="#4674a0" stroke="#1d3346" stroke-width="0.9"/>
<circle cx="110.1" cy="300.5" r="2.75" fill="#4674a0" stroke="#1d3346" stroke-width="0.9"/>
<circle cx="146.0" cy="131.9" r="2.75" fill="#f2ee3c" stroke="#3a3a16" stroke-width="0.9"/>
<circle cx="139.6" cy="151.0" r="2.75" fill="#f2ee3c" stroke="#3a3a16" stroke-width="0.9"/>
<path d="M258.7 297.6L262.0 300.9L258.7 304.2L255.4 300.9Z" fill="#3a6a8c" stroke="#1c2b38" stroke-width="0.9"/>
<path d="M237.5 308.8L240.8 312.1L237.5 315.4L234.2 312.1Z" fill="#3a6a8c" stroke="#1c2b38" stroke-width="0.9"/>
<path d="M260.5 307.4L263.8 310.7L260.5 314.0L257.2 310.7Z" fill="#3a6a8c" stroke="#1c2b38" stroke-width="0.9"/>
<path d="M243.2 315.4L246.5 318.7L243.2 322.0L239.9 318.7Z" fill="#3a6a8c" stroke="#1c2b38" stroke-width="0.9"/>
<path d="M248.4 315.4L251.7 318.7L248.4 322.0L245.1 318.7Z" fill="#3a6a8c" stroke="#1c2b38" stroke-width="0.9"/>
<path d="M253.0 314.9L256.3 318.2L253.0 321.5L249.7 318.2Z" fill="#3a6a8c" stroke="#1c2b38" stroke-width="0.9"/>
<path d="M251.0 320.1L254.3 323.4L251.0 326.7L247.7 323.4Z" fill="#3a6a8c" stroke="#1c2b38" stroke-width="0.9"/>
<path d="M272.6 317.9L275.9 321.2L272.6 324.5L269.3 321.2Z" fill="#3a6a8c" stroke="#1c2b38" stroke-width="0.9"/>
<path d="M244.0 334.4L247.3 337.7L244.0 341.0L240.7 337.7Z" fill="#3a6a8c" stroke="#1c2b38" stroke-width="0.9"/>
<rect x="289.9" y="263.0" width="4.6" height="4.6" fill="#f0b060" stroke="#3b2a14" stroke-width="0.95"/>
<rect x="277.2" y="269.4" width="4.6" height="4.6" fill="#f0b060" stroke="#3b2a14" stroke-width="0.95"/>
<rect x="293.3" y="269.4" width="4.6" height="4.6" fill="#f0b060" stroke="#3b2a14" stroke-width="0.95"/>
<rect x="277.7" y="276.9" width="4.6" height="4.6" fill="#f0b060" stroke="#3b2a14" stroke-width="0.95"/>
<rect x="284.5" y="278.5" width="4.6" height="4.6" fill="#f0b060" stroke="#3b2a14" stroke-width="0.95"/>
<rect x="292.8" y="277.7" width="4.6" height="4.6" fill="#f0b060" stroke="#3b2a14" stroke-width="0.95"/>
<rect x="285.3" y="286.3" width="4.6" height="4.6" fill="#f0b060" stroke="#3b2a14" stroke-width="0.95"/>
<rect x="311.1" y="287.0" width="4.6" height="4.6" fill="#f0b060" stroke="#3b2a14" stroke-width="0.95"/>
<rect x="274.3" y="291.4" width="4.6" height="4.6" fill="#f0b060" stroke="#3b2a14" stroke-width="0.95"/>
<rect x="280.6" y="297.7" width="4.6" height="4.6" fill="#f0b060" stroke="#3b2a14" stroke-width="0.95"/>
<rect x="284.8" y="295.2" width="4.6" height="4.6" fill="#f0b060" stroke="#3b2a14" stroke-width="0.95"/>
<rect x="289.6" y="297.7" width="4.6" height="4.6" fill="#f0b060" stroke="#3b2a14" stroke-width="0.95"/>
<rect x="285.7" y="301.6" width="4.6" height="4.6" fill="#f0b060" stroke="#3b2a14" stroke-width="0.95"/>
<rect x="284.0" y="298.5" width="4.6" height="4.6" fill="#f0b060" stroke="#3b2a14" stroke-width="0.95"/>
<rect x="298.4" y="297.4" width="4.6" height="4.6" fill="#f0b060" stroke="#3b2a14" stroke-width="0.95"/>
<rect x="305.5" y="296.3" width="4.6" height="4.6" fill="#f0b060" stroke="#3b2a14" stroke-width="0.95"/>
<rect x="297.9" y="302.3" width="4.6" height="4.6" fill="#f0b060" stroke="#3b2a14" stroke-width="0.95"/>
<rect x="300.1" y="305.3" width="4.6" height="4.6" fill="#f0b060" stroke="#3b2a14" stroke-width="0.95"/>
<rect x="279.7" y="304.5" width="4.6" height="4.6" fill="#f0b060" stroke="#3b2a14" stroke-width="0.95"/>
<rect x="275.5" y="310.1" width="4.6" height="4.6" fill="#f0b060" stroke="#3b2a14" stroke-width="0.95"/>
<rect x="290.2" y="309.1" width="4.6" height="4.6" fill="#f0b060" stroke="#3b2a14" stroke-width="0.95"/>
<rect x="297.0" y="312.4" width="4.6" height="4.6" fill="#f0b060" stroke="#3b2a14" stroke-width="0.95"/>
<rect x="273.5" y="316.3" width="4.6" height="4.6" fill="#f0b060" stroke="#3b2a14" stroke-width="0.95"/>
<rect x="303.1" y="321.4" width="4.6" height="4.6" fill="#f0b060" stroke="#3b2a14" stroke-width="0.95"/>
<rect x="313.6" y="320.9" width="4.6" height="4.6" fill="#f0b060" stroke="#3b2a14" stroke-width="0.95"/>
<rect x="268.2" y="331.6" width="4.6" height="4.6" fill="#f0b060" stroke="#3b2a14" stroke-width="0.95"/>
<rect x="248.7" y="325.0" width="4.6" height="4.6" fill="#f0b060" stroke="#3b2a14" stroke-width="0.95"/>
<path d="M271.0 284.3L274.4 290.1H267.6Z" fill="#d9a0c0" stroke="#3a2633" stroke-width="1.0"/>
<path d="M278.1 303.0L281.5 308.8H274.7Z" fill="#d9a0c0" stroke="#3a2633" stroke-width="1.0"/>
<path d="M213.6 25.6H220.4L217.0 31.2Z" fill="#c4c4c4" stroke="#2b2b2b" stroke-width="1.15" stroke-linejoin="miter"/>
<path d="M287.4 175.1H294.2L290.8 180.7Z" fill="#c4c4c4" stroke="#2b2b2b" stroke-width="1.15" stroke-linejoin="miter"/>
<path d="M342.4 153.6H349.2L345.8 159.2Z" fill="#c4c4c4" stroke="#2b2b2b" stroke-width="1.15" stroke-linejoin="miter"/>
<rect x="18.00" y="417.80" width="9.20" height="18.80" fill="#e09ac6"/>
<rect x="18.00" y="436.00" width="9.20" height="39.10" fill="#dc923e"/>
<rect x="18.00" y="474.50" width="9.20" height="38.60" fill="#dc1e4a"/>
<rect x="18.00" y="512.50" width="9.20" height="6.10" fill="#8cc850"/>
<rect x="26.60" y="417.80" width="8.30" height="5.00" fill="#cdb4dc"/>
<rect x="26.60" y="422.20" width="8.30" height="13.10" fill="#5070a0"/>
<rect x="26.60" y="434.70" width="8.30" height="8.90" fill="#eee85a"/>
<rect x="26.60" y="443.00" width="8.30" height="33.60" fill="#dc923e"/>
<rect x="26.60" y="476.00" width="8.30" height="10.90" fill="#f6dfa6"/>
<rect x="26.60" y="486.30" width="8.30" height="23.30" fill="#dc1e4a"/>
<rect x="26.60" y="509.00" width="8.30" height="9.60" fill="#6e8c64"/>
<rect x="34.30" y="417.80" width="8.30" height="4.00" fill="#3c5a94"/>
<rect x="34.30" y="421.20" width="8.30" height="25.40" fill="#eee85a"/>
<rect x="34.30" y="446.00" width="8.30" height="8.10" fill="#dc923e"/>
<rect x="34.30" y="453.50" width="8.30" height="2.60" fill="#dc1e4a"/>
<rect x="34.30" y="455.50" width="8.30" height="12.60" fill="#f6dfa6"/>
<rect x="34.30" y="467.50" width="8.30" height="35.50" fill="#dc1e4a"/>
<rect x="34.30" y="502.40" width="8.30" height="3.20" fill="#8cc850"/>
<rect x="34.30" y="505.00" width="8.30" height="13.60" fill="#6e8c64"/>
<rect x="46.20" y="417.80" width="17.80" height="101.20" fill="#dc923e"/>
<rect x="46.20" y="417.80" width="17.80" height="10.20" fill="#e09ac6"/>
<rect x="46.20" y="514.20" width="8.80" height="4.80" fill="#8cc850"/>
<rect x="55.00" y="515.00" width="9.00" height="4.00" fill="#dc1e4a"/>
<rect x="67.50" y="417.80" width="86.10" height="101.20" fill="#dc923e"/>
<rect x="76.50" y="417.80" width="30.80" height="2.20" fill="#5070a0"/>
<path d="M91 417.8H106.6V427.2H97V429.2H91Z" fill="#6486be"/>
<rect x="83.80" y="511.30" width="7.10" height="4.70" fill="#f6dfa6"/>
<rect x="84.00" y="516.00" width="22.00" height="3.00" fill="#6e8c64"/>
<rect x="157.70" y="417.80" width="24.70" height="101.20" fill="#dc923e"/>
<rect x="187.40" y="417.80" width="209.00" height="101.20" fill="#5070a0"/>
<path d="M187.40 519.00L187.40 496.70L196.00 496.70L196.00 496.20L202.90 496.20L202.90 504.80L211.00 504.80L211.00 499.60L217.30 499.60L217.30 501.90L226.50 501.90L226.50 492.70L232.90 492.70L232.90 497.30L241.50 497.30L241.50 513.50L249.20 513.50L249.20 492.70L256.20 492.70L256.20 504.80L264.80 504.80L264.80 501.30L271.70 501.30L271.70 504.20L279.20 504.20L279.20 503.70L296.50 503.70L296.50 499.60L303.00 499.60L303.00 504.20L310.60 504.20L310.60 506.00L319.80 506.00L319.80 500.80L326.20 500.80L326.20 510.60L334.80 510.60L334.80 497.30L342.30 497.30L342.30 496.20L349.20 496.20L349.20 497.80L356.30 497.80L356.30 496.70L371.90 496.70L371.90 505.40L380.60 505.40L380.60 503.00L388.00 503.00L388.00 507.70L396.40 507.70L396.40 519.00Z" fill="#dc923e"/>
<rect x="241.50" y="513.50" width="7.70" height="5.50" fill="#6e8c64"/>
<rect x="217.30" y="501.20" width="9.20" height="1.60" fill="#f6dfa6"/>
<rect x="232.90" y="496.80" width="8.60" height="1.50" fill="#f6dfa6"/>
<rect x="403.80" y="417.80" width="10.00" height="101.20" fill="#5070a0"/>
<rect x="403.80" y="494.40" width="10.00" height="24.60" fill="#dc923e"/>
<rect x="404.50" y="417.80" width="8.50" height="3.70" fill="#8a9cbc"/>
<rect x="421.80" y="417.80" width="70.80" height="101.20" fill="#5070a0"/>
<path d="M421.80 519.00L421.80 478.80L429.50 478.80L429.50 485.20L437.00 485.20L437.00 486.30L445.70 486.30L445.70 480.00L452.60 480.00L452.60 485.80L460.70 485.80L460.70 481.20L468.80 481.20L468.80 484.10L483.70 484.10L483.70 491.20L492.60 491.20L492.60 519.00Z" fill="#dc923e"/>
<rect x="423.00" y="417.80" width="7.00" height="4.70" fill="#8498bc"/>
<rect x="496.80" y="417.80" width="17.50" height="101.20" fill="#5070a0"/>
<path d="M496.80 519.00L496.80 495.80L505.90 495.80L505.90 490.20L514.30 490.20L514.30 519.00Z" fill="#dc923e"/>
</g>
</svg></div>
<div class="ly" id="t"><svg width="520" height="560" viewBox="0 0 520 560">
<path d="M63 0.75H474" stroke="#8c8c8c" stroke-width="1.5"/>
<path d="M63.6 0V367.3H473.2V0" fill="none" stroke="#4a4a4a" stroke-width="1.3"/>
<path d="M56.3 40.9H63.6" stroke="#4a4a4a" stroke-width="1.1"/>
<path d="M56.3 130.4H63.6" stroke="#4a4a4a" stroke-width="1.1"/>
<path d="M56.3 219.8H63.6" stroke="#4a4a4a" stroke-width="1.1"/>
<path d="M56.3 309.2H63.6" stroke="#4a4a4a" stroke-width="1.1"/>
<path d="M128.0 367V374.6" stroke="#4a4a4a" stroke-width="1.1"/>
<path d="M210.4 367V374.6" stroke="#4a4a4a" stroke-width="1.1"/>
<path d="M292.8 367V374.6" stroke="#4a4a4a" stroke-width="1.1"/>
<path d="M375.2 367V374.6" stroke="#4a4a4a" stroke-width="1.1"/>
<path d="M457.6 367V374.6" stroke="#4a4a4a" stroke-width="1.1"/>
<path d="M63.6 0V87.2H207.2V0" fill="none" stroke="#454545" stroke-width="1.3"/>
<path d="M139.40 75.40L147.80 75.40M140.63 72.43L146.57 78.37M143.60 71.20L143.60 79.60M146.57 72.43L140.63 78.37" stroke="#e2404a" stroke-width="0.95" fill="none"/>
<path d="M256.6 0V113.6H473.2V0" fill="none" stroke="#454545" stroke-width="1.3"/>
<path d="M274.50 332.90L283.30 332.90M275.79 329.79L282.01 336.01M278.90 328.50L278.90 337.30M282.01 329.79L275.79 336.01" stroke="#e2404a" stroke-width="1.0" fill="none"/>
<rect x="17.80" y="417.80" width="24.80" height="101.20" fill="none" stroke="#262626" stroke-width="1.5"/>
<rect x="46.20" y="417.80" width="17.80" height="101.20" fill="none" stroke="#262626" stroke-width="1.5"/>
<rect x="67.50" y="417.80" width="86.10" height="101.20" fill="none" stroke="#262626" stroke-width="1.5"/>
<rect x="157.70" y="417.80" width="24.70" height="101.20" fill="none" stroke="#262626" stroke-width="1.5"/>
<rect x="187.40" y="417.80" width="209.00" height="101.20" fill="none" stroke="#262626" stroke-width="1.5"/>
<rect x="403.80" y="417.80" width="10.00" height="101.20" fill="none" stroke="#262626" stroke-width="1.5"/>
<rect x="421.80" y="417.80" width="70.80" height="101.20" fill="none" stroke="#262626" stroke-width="1.5"/>
<rect x="496.80" y="417.80" width="17.50" height="101.20" fill="none" stroke="#262626" stroke-width="1.5"/>
<path d="M404.20 411.90L412.80 411.90M405.46 408.86L411.54 414.94M408.50 407.60L408.50 416.20M411.54 408.86L405.46 414.94" stroke="#e2363a" stroke-width="1.1" fill="none"/>
<text x="54.2" y="45.2" font-size="11.8" text-anchor="end" font-weight="normal" fill="#231f20">0.2</text>
<text x="54.2" y="134.7" font-size="11.8" text-anchor="end" font-weight="normal" fill="#231f20">0.1</text>
<text x="54.2" y="224.1" font-size="11.8" text-anchor="end" font-weight="normal" fill="#231f20">0.0</text>
<text x="54.2" y="313.6" font-size="11.8" text-anchor="end" font-weight="normal" fill="#231f20">−0.1</text>
<text x="128.0" y="387.2" font-size="11.8" text-anchor="middle" font-weight="normal" fill="#231f20">−0.10</text>
<text x="210.4" y="387.2" font-size="11.8" text-anchor="middle" font-weight="normal" fill="#231f20">−0.05</text>
<text x="292.8" y="387.2" font-size="11.8" text-anchor="middle" font-weight="normal" fill="#231f20">0.00</text>
<text x="375.2" y="387.2" font-size="11.8" text-anchor="middle" font-weight="normal" fill="#231f20">0.05</text>
<text x="457.6" y="387.2" font-size="11.8" text-anchor="middle" font-weight="normal" fill="#231f20">0.10</text>
<text x="268" y="396.8" font-size="11.8" text-anchor="middle" font-weight="normal" fill="#231f20">PC1</text>
<text x="0" y="0" font-size="11.8" text-anchor="middle" font-weight="normal" fill="#231f20" transform="translate(38.6 183.7) rotate(-90)">PC2</text>
<text x="12.6" y="12.8" font-size="13.0" text-anchor="start" font-weight="bold" fill="#000">A</text>
<text x="12.6" y="410.8" font-size="13.0" text-anchor="start" font-weight="bold" fill="#000">B</text>
<text transform="translate(73.80 11.00) scale(0.965 1)" font-size="8.2" text-anchor="start" font-weight="normal" fill="#231f20">Pleistocene</text>
<text transform="translate(73.80 20.90) scale(0.965 1)" font-size="8.2" text-anchor="start" font-weight="normal" fill="#231f20">hunter−gatherers</text>
<text transform="translate(73.80 31.30) scale(0.965 1)" font-size="8.2" text-anchor="start" font-weight="normal" fill="#231f20">Scandinavian</text>
<text transform="translate(73.80 41.20) scale(0.965 1)" font-size="8.2" text-anchor="start" font-weight="normal" fill="#231f20">hunter−gatherers</text>
<text transform="translate(73.80 52.00) scale(0.965 1)" font-size="8.2" text-anchor="start" font-weight="normal" fill="#231f20">Eastern European</text>
<text transform="translate(73.80 61.90) scale(0.965 1)" font-size="8.2" text-anchor="start" font-weight="normal" fill="#231f20">hunter−gatherers</text>
<text transform="translate(73.80 72.80) scale(0.965 1)" font-size="8.2" text-anchor="start" font-weight="normal" fill="#231f20">Western</text>
<text transform="translate(73.80 82.70) scale(0.965 1)" font-size="8.2" text-anchor="start" font-weight="normal" fill="#231f20">hunter−gatherers</text>
<text transform="translate(149.00 15.90) scale(0.965 1)" font-size="8.2" text-anchor="start" font-weight="normal" fill="#231f20">Early Neolithic</text>
<text transform="translate(149.00 36.30) scale(0.965 1)" font-size="8.2" text-anchor="start" font-weight="normal" fill="#231f20">Middle Neolithic</text>
<text transform="translate(149.00 57.00) scale(0.965 1)" font-size="8.2" text-anchor="start" font-weight="normal" fill="#231f20">Copper Age</text>
<text transform="translate(149.00 78.30) scale(0.965 1)" font-size="8.2" text-anchor="start" font-weight="normal" fill="#231f20">CB13</text>
<text transform="translate(67.60 96.60) scale(0.965 1)" font-size="8.2" text-anchor="start" font-weight="normal" fill="#231f20">Ancient individuals</text>
<text transform="translate(266.20 9.70) scale(0.93 1)" font-size="6.4" text-anchor="start" font-weight="normal" fill="#231f20">Armenian</text>
<text transform="translate(266.20 16.77) scale(0.93 1)" font-size="6.4" text-anchor="start" font-weight="normal" fill="#231f20">Iranian</text>
<text transform="translate(266.20 23.84) scale(0.93 1)" font-size="6.4" text-anchor="start" font-weight="normal" fill="#231f20">Turkish</text>
<text transform="translate(266.20 30.91) scale(0.93 1)" font-size="6.4" text-anchor="start" font-weight="normal" fill="#231f20">Albanian</text>
<text transform="translate(266.20 37.98) scale(0.93 1)" font-size="6.4" text-anchor="start" font-weight="normal" fill="#231f20">Bergamo</text>
<text transform="translate(266.20 45.05) scale(0.93 1)" font-size="6.4" text-anchor="start" font-weight="normal" fill="#231f20">Bulgarian</text>
<text transform="translate(266.20 52.12) scale(0.93 1)" font-size="6.4" text-anchor="start" font-weight="normal" fill="#231f20">Cypriot</text>
<text transform="translate(266.20 59.19) scale(0.93 1)" font-size="6.4" text-anchor="start" font-weight="normal" fill="#231f20">Greek</text>
<text transform="translate(266.20 66.26) scale(0.93 1)" font-size="6.4" text-anchor="start" font-weight="normal" fill="#231f20">Italian_South</text>
<text transform="translate(266.20 73.33) scale(0.93 1)" font-size="6.4" text-anchor="start" font-weight="normal" fill="#231f20">Maltese</text>
<text transform="translate(266.20 80.40) scale(0.93 1)" font-size="6.4" text-anchor="start" font-weight="normal" fill="#231f20">Sicilian</text>
<text transform="translate(266.20 87.47) scale(0.93 1)" font-size="6.4" text-anchor="start" font-weight="normal" fill="#231f20">Tuscan</text>
<text transform="translate(266.20 94.54) scale(0.93 1)" font-size="6.4" text-anchor="start" font-weight="normal" fill="#231f20">English</text>
<text transform="translate(266.20 101.61) scale(0.93 1)" font-size="6.4" text-anchor="start" font-weight="normal" fill="#231f20">French</text>
<text transform="translate(266.20 108.68) scale(0.93 1)" font-size="6.4" text-anchor="start" font-weight="normal" fill="#231f20">Icelandic</text>
<text transform="translate(321.00 9.70) scale(0.93 1)" font-size="6.4" text-anchor="start" font-weight="normal" fill="#231f20">Norwegian</text>
<text transform="translate(321.00 16.77) scale(0.93 1)" font-size="6.4" text-anchor="start" font-weight="normal" fill="#231f20">Orcadian</text>
<text transform="translate(321.00 23.84) scale(0.93 1)" font-size="6.4" text-anchor="start" font-weight="normal" fill="#231f20">Scottish</text>
<text transform="translate(321.00 30.91) scale(0.93 1)" font-size="6.4" text-anchor="start" font-weight="normal" fill="#231f20">Canary_Islanders</text>
<text transform="translate(321.00 37.98) scale(0.93 1)" font-size="6.4" text-anchor="start" font-weight="normal" fill="#231f20">Sardinian</text>
<text transform="translate(321.00 45.05) scale(0.93 1)" font-size="6.4" text-anchor="start" font-weight="normal" fill="#231f20">Druze</text>
<text transform="translate(321.00 52.12) scale(0.93 1)" font-size="6.4" text-anchor="start" font-weight="normal" fill="#231f20">Lebanese</text>
<text transform="translate(321.00 59.19) scale(0.93 1)" font-size="6.4" text-anchor="start" font-weight="normal" fill="#231f20">Abkhasian</text>
<text transform="translate(321.00 66.26) scale(0.93 1)" font-size="6.4" text-anchor="start" font-weight="normal" fill="#231f20">Adygei</text>
<text transform="translate(321.00 73.33) scale(0.93 1)" font-size="6.4" text-anchor="start" font-weight="normal" fill="#231f20">Balkar</text>
<text transform="translate(321.00 80.40) scale(0.93 1)" font-size="6.4" text-anchor="start" font-weight="normal" fill="#231f20">Chechen</text>
<text transform="translate(321.00 87.47) scale(0.93 1)" font-size="6.4" text-anchor="start" font-weight="normal" fill="#231f20">Georgian</text>
<text transform="translate(321.00 94.54) scale(0.93 1)" font-size="6.4" text-anchor="start" font-weight="normal" fill="#231f20">Kumyk</text>
<text transform="translate(321.00 101.61) scale(0.93 1)" font-size="6.4" text-anchor="start" font-weight="normal" fill="#231f20">Lezgin</text>
<text transform="translate(321.00 108.68) scale(0.93 1)" font-size="6.4" text-anchor="start" font-weight="normal" fill="#231f20">North_Ossetian</text>
<text transform="translate(375.60 9.70) scale(0.93 1)" font-size="6.4" text-anchor="start" font-weight="normal" fill="#231f20">BedouinA</text>
<text transform="translate(375.60 16.77) scale(0.93 1)" font-size="6.4" text-anchor="start" font-weight="normal" fill="#231f20">BedouinB</text>
<text transform="translate(375.60 23.84) scale(0.93 1)" font-size="6.4" text-anchor="start" font-weight="normal" fill="#231f20">Jordanian</text>
<text transform="translate(375.60 30.91) scale(0.93 1)" font-size="6.4" text-anchor="start" font-weight="normal" fill="#231f20">Palestinian</text>
<text transform="translate(375.60 37.98) scale(0.93 1)" font-size="6.4" text-anchor="start" font-weight="normal" fill="#231f20">Saudi</text>
<text transform="translate(375.60 45.05) scale(0.93 1)" font-size="6.4" text-anchor="start" font-weight="normal" fill="#231f20">Syrian</text>
<text transform="translate(375.60 52.12) scale(0.93 1)" font-size="6.4" text-anchor="start" font-weight="normal" fill="#231f20">Finnish</text>
<text transform="translate(375.60 59.19) scale(0.93 1)" font-size="6.4" text-anchor="start" font-weight="normal" fill="#231f20">Mordovian</text>
<text transform="translate(375.60 66.26) scale(0.93 1)" font-size="6.4" text-anchor="start" font-weight="normal" fill="#231f20">Russian</text>
<text transform="translate(375.60 73.33) scale(0.93 1)" font-size="6.4" text-anchor="start" font-weight="normal" fill="#231f20">Belarusian</text>
<text transform="translate(375.60 80.40) scale(0.93 1)" font-size="6.4" text-anchor="start" font-weight="normal" fill="#231f20">Croatian</text>
<text transform="translate(375.60 87.47) scale(0.93 1)" font-size="6.4" text-anchor="start" font-weight="normal" fill="#231f20">Czech</text>
<text transform="translate(375.60 94.54) scale(0.93 1)" font-size="6.4" text-anchor="start" font-weight="normal" fill="#231f20">Estonian</text>
<text transform="translate(375.60 101.61) scale(0.93 1)" font-size="6.4" text-anchor="start" font-weight="normal" fill="#231f20">Hungarian</text>
<text transform="translate(375.60 108.68) scale(0.93 1)" font-size="6.4" text-anchor="start" font-weight="normal" fill="#231f20">Lithuanian</text>
<text transform="translate(429.80 9.70) scale(0.93 1)" font-size="6.4" text-anchor="start" font-weight="normal" fill="#231f20">Ukrainian</text>
<text transform="translate(429.80 16.77) scale(0.93 1)" font-size="6.4" text-anchor="start" font-weight="normal" fill="#231f20">Ashkenazi_Jew</text>
<text transform="translate(429.80 23.84) scale(0.93 1)" font-size="6.4" text-anchor="start" font-weight="normal" fill="#231f20">Georgian_Jew</text>
<text transform="translate(429.80 30.91) scale(0.93 1)" font-size="6.4" text-anchor="start" font-weight="normal" fill="#231f20">Iranian_Jew</text>
<text transform="translate(429.80 37.98) scale(0.93 1)" font-size="6.4" text-anchor="start" font-weight="normal" fill="#231f20">Iraqi_Jew</text>
<text transform="translate(429.80 45.05) scale(0.93 1)" font-size="6.4" text-anchor="start" font-weight="normal" fill="#231f20">Libyan_Jew</text>
<text transform="translate(429.80 52.12) scale(0.93 1)" font-size="6.4" text-anchor="start" font-weight="normal" fill="#231f20">Moroccan_Jew</text>
<text transform="translate(429.80 59.19) scale(0.93 1)" font-size="6.4" text-anchor="start" font-weight="normal" fill="#231f20">Tunisian_Jew</text>
<text transform="translate(429.80 66.26) scale(0.93 1)" font-size="6.4" text-anchor="start" font-weight="normal" fill="#231f20">Turkish_Jew</text>
<text transform="translate(429.80 73.33) scale(0.93 1)" font-size="6.4" text-anchor="start" font-weight="normal" fill="#231f20">Yemenite_Jew</text>
<text transform="translate(429.80 80.40) scale(0.93 1)" font-size="6.4" text-anchor="start" font-weight="normal" fill="#231f20">Basque</text>
<text transform="translate(429.80 87.47) scale(0.93 1)" font-size="6.4" text-anchor="start" font-weight="normal" fill="#231f20">French_South</text>
<text transform="translate(429.80 94.54) scale(0.93 1)" font-size="6.4" text-anchor="start" font-weight="normal" fill="#231f20">Spanish</text>
<text transform="translate(429.80 101.61) scale(0.93 1)" font-size="6.4" text-anchor="start" font-weight="normal" fill="#231f20">Spanish_North</text>
<text transform="translate(470.20 123.00) scale(0.965 1)" font-size="8.2" text-anchor="end" font-weight="normal" fill="#231f20">Modern individuals</text>
<text x="59.0" y="530.4" font-size="8.3" text-anchor="middle" font-weight="normal" fill="#231f20" stroke="#231f20" stroke-width="0.15">Eastern</text>
<text x="59.0" y="539.9" font-size="8.3" text-anchor="middle" font-weight="normal" fill="#231f20" stroke="#231f20" stroke-width="0.15">hunter-gatherers</text>
<text x="30.3" y="548.2" font-size="8.3" text-anchor="middle" font-weight="normal" fill="#231f20" stroke="#231f20" stroke-width="0.15">Pleistocene</text>
<text x="30.3" y="557.7" font-size="8.3" text-anchor="middle" font-weight="normal" fill="#231f20" stroke="#231f20" stroke-width="0.15">hunter-gatherers</text>
<text x="115.2" y="548.3" font-size="8.3" text-anchor="middle" font-weight="normal" fill="#231f20" stroke="#231f20" stroke-width="0.15">Scandinavian</text>
<text x="115.2" y="557.8" font-size="8.3" text-anchor="middle" font-weight="normal" fill="#231f20" stroke="#231f20" stroke-width="0.15">hunter-gatherers</text>
<text x="171.0" y="530.5" font-size="8.3" text-anchor="middle" font-weight="normal" fill="#231f20" stroke="#231f20" stroke-width="0.15">Western</text>
<text x="171.0" y="540.0" font-size="8.3" text-anchor="middle" font-weight="normal" fill="#231f20" stroke="#231f20" stroke-width="0.15">hunter-gatherers</text>
<text x="282.3" y="530.8" font-size="8.3" text-anchor="middle" font-weight="normal" fill="#231f20" stroke="#231f20" stroke-width="0.15">Early</text>
<text x="282.3" y="540.3" font-size="8.3" text-anchor="middle" font-weight="normal" fill="#231f20" stroke="#231f20" stroke-width="0.15">Neolithic</text>
<text x="409.0" y="530.6" font-size="8.4" text-anchor="middle" font-weight="bold" fill="#231f20">CB13</text>
<text x="463.3" y="530.6" font-size="8.3" text-anchor="middle" font-weight="normal" fill="#231f20" stroke="#231f20" stroke-width="0.15">Middle</text>
<text x="463.3" y="540.1" font-size="8.3" text-anchor="middle" font-weight="normal" fill="#231f20" stroke="#231f20" stroke-width="0.15">Neolithic</text>
<text x="505.6" y="530.6" font-size="8.3" text-anchor="middle" font-weight="normal" fill="#231f20" stroke="#231f20" stroke-width="0.15">Copper</text>
<text x="505.6" y="540.1" font-size="8.3" text-anchor="middle" font-weight="normal" fill="#231f20" stroke="#231f20" stroke-width="0.15">Age</text>
</svg></div>
</body></html>
